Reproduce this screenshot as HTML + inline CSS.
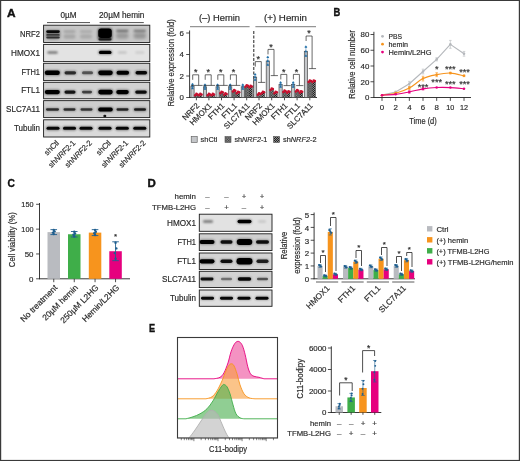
<!DOCTYPE html>
<html lang="en"><head><meta charset="utf-8"><title>Figure</title>
<style>html,body{margin:0;padding:0;background:#fff}body{width:520px;height:461px;overflow:hidden}svg{display:block}</style>
</head><body>
<svg width="520" height="461" viewBox="0 0 520 461" font-family='"Liberation Sans", sans-serif'>
<defs>
<filter id="b1" x="-30%" y="-80%" width="160%" height="260%"><feGaussianBlur stdDeviation="0.9"/></filter>
<filter id="b2" x="-30%" y="-80%" width="160%" height="260%"><feGaussianBlur stdDeviation="1.5"/></filter>
<filter id="b05" x="-30%" y="-80%" width="160%" height="260%"><feGaussianBlur stdDeviation="0.6"/></filter>
<pattern id="h1" width="1.6" height="1.6" patternUnits="userSpaceOnUse"><rect width="1.6" height="1.6" fill="#9a9a9a"/><rect width="0.8" height="0.8" fill="#333"/><rect x="0.8" y="0.8" width="0.8" height="0.8" fill="#333"/></pattern>
<pattern id="h2" width="2" height="2" patternUnits="userSpaceOnUse"><rect width="2" height="2" fill="#8a8a8a"/><rect width="1" height="1" fill="#222"/><rect x="1" y="1" width="1" height="1" fill="#222"/></pattern>
</defs>
<rect width="520" height="461" fill="#fff"/>
<rect x="0.6" y="0.4" width="518.8" height="460.1" fill="none" stroke="#3a3a3a" stroke-width="1.2"/>
<text x="7.1" y="17" font-size="11.5" text-anchor="start" fill="#111" stroke="#111" stroke-width="0.4" font-weight="bold" textLength="8.6" lengthAdjust="spacingAndGlyphs" >A</text>
<text x="333.4" y="16.2" font-size="11.5" text-anchor="start" fill="#111" stroke="#111" stroke-width="0.4" font-weight="bold" textLength="6.8" lengthAdjust="spacingAndGlyphs" >B</text>
<text x="7.6" y="187" font-size="11.5" text-anchor="start" fill="#111" stroke="#111" stroke-width="0.4" font-weight="bold" textLength="7.4" lengthAdjust="spacingAndGlyphs" >C</text>
<text x="147.4" y="187" font-size="11.5" text-anchor="start" fill="#111" stroke="#111" stroke-width="0.4" font-weight="bold" textLength="8.3" lengthAdjust="spacingAndGlyphs" >D</text>
<text x="149" y="331.9" font-size="11.5" text-anchor="start" fill="#111" stroke="#111" stroke-width="0.4" font-weight="bold" textLength="6.1" lengthAdjust="spacingAndGlyphs" >E</text>
<clipPath id="clipA"><rect x="43.6" y="0" width="106.2" height="200"/></clipPath>
<rect x="43.60" y="25.20" width="106.20" height="17.30" fill="#c6c6c6" stroke="none" stroke-width="0.5" />
<text x="40" y="36.75" font-size="8.2" text-anchor="end" fill="#2a2a2a" stroke="#2a2a2a" stroke-width="0.18" textLength="20" lengthAdjust="spacingAndGlyphs" >NRF2</text>
<rect x="43.60" y="44.40" width="106.20" height="17.20" fill="#e3e3e3" stroke="none" stroke-width="0.5" />
<text x="40" y="55.9" font-size="8.2" text-anchor="end" fill="#2a2a2a" stroke="#2a2a2a" stroke-width="0.18" textLength="29" lengthAdjust="spacingAndGlyphs" >HMOX1</text>
<rect x="43.60" y="63.30" width="106.20" height="17.30" fill="#d0d0d0" stroke="none" stroke-width="0.5" />
<text x="40" y="74.85" font-size="8.2" text-anchor="end" fill="#2a2a2a" stroke="#2a2a2a" stroke-width="0.18" textLength="18.6" lengthAdjust="spacingAndGlyphs" >FTH1</text>
<rect x="43.60" y="82.30" width="106.20" height="16.45" fill="#d2d2d2" stroke="none" stroke-width="0.5" />
<text x="40" y="93.42500000000001" font-size="8.2" text-anchor="end" fill="#2a2a2a" stroke="#2a2a2a" stroke-width="0.18" textLength="18.8" lengthAdjust="spacingAndGlyphs" >FTL1</text>
<rect x="43.60" y="100.65" width="106.20" height="16.95" fill="#cecece" stroke="none" stroke-width="0.5" />
<text x="40" y="112.025" font-size="8.2" text-anchor="end" fill="#2a2a2a" stroke="#2a2a2a" stroke-width="0.18" textLength="34" lengthAdjust="spacingAndGlyphs" >SLC7A11</text>
<rect x="43.60" y="119.80" width="106.20" height="17.20" fill="#dadada" stroke="none" stroke-width="0.5" />
<text x="40" y="131.3" font-size="8.2" text-anchor="end" fill="#2a2a2a" stroke="#2a2a2a" stroke-width="0.18" textLength="26" lengthAdjust="spacingAndGlyphs" >Tubulin</text>
<g clip-path="url(#clipA)">
<rect x="46.25" y="30.30" width="13.50" height="2.60" rx="1.30" fill="#000" opacity="0.9" filter="url(#b05)"/>
<rect x="45.75" y="29.90" width="14.50" height="3.40" rx="1.70" fill="#000" opacity="0.4" filter="url(#b1)"/>
<rect x="46.25" y="34.00" width="13.50" height="1.80" rx="0.90" fill="#000" opacity="0.55" filter="url(#b05)"/>
<rect x="46.25" y="36.50" width="13.50" height="2.00" rx="1.00" fill="#000" opacity="0.65" filter="url(#b05)"/>
<rect x="45.50" y="31.50" width="15.00" height="8.00" rx="4.00" fill="#000" opacity="0.3" filter="url(#b1)"/>
<rect x="63.50" y="30.40" width="12.00" height="2.20" rx="1.10" fill="#000" opacity="0.22" filter="url(#b1)"/>
<rect x="63.50" y="34.25" width="12.00" height="4.50" rx="2.25" fill="#000" opacity="0.15" filter="url(#b1)"/>
<rect x="80.00" y="30.40" width="12.00" height="2.20" rx="1.10" fill="#000" opacity="0.18" filter="url(#b1)"/>
<rect x="80.00" y="34.25" width="12.00" height="4.50" rx="2.25" fill="#000" opacity="0.13" filter="url(#b1)"/>
<rect x="98.25" y="28.45" width="13.50" height="9.50" rx="3.00" fill="#000" opacity="1.0" filter="url(#b05)"/>
<rect x="97.75" y="27.90" width="14.50" height="13.00" rx="3.00" fill="#000" opacity="0.6" filter="url(#b1)"/>
<rect x="98.50" y="38.20" width="13.00" height="2.20" rx="1.10" fill="#000" opacity="0.7" filter="url(#b05)"/>
<rect x="116.05" y="29.70" width="12.50" height="2.20" rx="1.10" fill="#000" opacity="0.45" filter="url(#b1)"/>
<rect x="116.05" y="32.80" width="12.50" height="6.00" rx="3.00" fill="#000" opacity="0.22" filter="url(#b2)"/>
<rect x="133.55" y="29.70" width="12.50" height="2.20" rx="1.10" fill="#000" opacity="0.4" filter="url(#b1)"/>
<rect x="133.55" y="32.80" width="12.50" height="6.00" rx="3.00" fill="#000" opacity="0.24" filter="url(#b2)"/>
<rect x="47.25" y="51.40" width="10.50" height="2.20" rx="1.10" fill="#000" opacity="0.6" filter="url(#b1)"/>
<rect x="98.95" y="50.80" width="12.50" height="3.20" rx="1.60" fill="#000" opacity="1.0" filter="url(#b05)"/>
<rect x="98.20" y="50.20" width="14.00" height="4.40" rx="2.20" fill="#000" opacity="0.45" filter="url(#b1)"/>
<rect x="117.80" y="51.50" width="9.00" height="2.00" rx="1.00" fill="#000" opacity="0.17" filter="url(#b1)"/>
<rect x="135.30" y="51.50" width="9.00" height="2.00" rx="1.00" fill="#000" opacity="0.12" filter="url(#b1)"/>
<rect x="44.80" y="70.60" width="15.00" height="4.40" rx="2.20" fill="#000" opacity="1" filter="url(#b05)"/>
<rect x="44.05" y="70.00" width="16.50" height="5.60" rx="2.80" fill="#000" opacity="0.45" filter="url(#b1)"/>
<rect x="64.55" y="71.20" width="11.50" height="3.20" rx="1.60" fill="#000" opacity="0.7" filter="url(#b05)"/>
<rect x="63.80" y="70.60" width="13.00" height="4.40" rx="2.20" fill="#000" opacity="0.315" filter="url(#b1)"/>
<rect x="82.00" y="71.30" width="11.00" height="3.00" rx="1.50" fill="#000" opacity="0.5" filter="url(#b05)"/>
<rect x="81.25" y="70.70" width="12.50" height="4.20" rx="2.10" fill="#000" opacity="0.225" filter="url(#b1)"/>
<rect x="98.25" y="70.40" width="14.50" height="4.80" rx="2.40" fill="#000" opacity="1" filter="url(#b05)"/>
<rect x="97.50" y="69.80" width="16.00" height="6.00" rx="3.00" fill="#000" opacity="0.45" filter="url(#b1)"/>
<rect x="116.55" y="70.80" width="12.50" height="4.00" rx="2.00" fill="#000" opacity="1" filter="url(#b05)"/>
<rect x="115.80" y="70.20" width="14.00" height="5.20" rx="2.60" fill="#000" opacity="0.45" filter="url(#b1)"/>
<rect x="135.55" y="71.10" width="11.50" height="3.40" rx="1.70" fill="#000" opacity="0.95" filter="url(#b05)"/>
<rect x="134.80" y="70.50" width="13.00" height="4.60" rx="2.30" fill="#000" opacity="0.4275" filter="url(#b1)"/>
<rect x="44.80" y="90.00" width="15.00" height="4.20" rx="2.10" fill="#000" opacity="1" filter="url(#b05)"/>
<rect x="44.05" y="89.40" width="16.50" height="5.40" rx="2.70" fill="#000" opacity="0.45" filter="url(#b1)"/>
<rect x="64.50" y="90.50" width="11.00" height="3.20" rx="1.60" fill="#000" opacity="0.85" filter="url(#b05)"/>
<rect x="63.75" y="89.90" width="12.50" height="4.40" rx="2.20" fill="#000" opacity="0.3825" filter="url(#b1)"/>
<rect x="82.00" y="90.70" width="10.00" height="2.80" rx="1.40" fill="#000" opacity="0.6" filter="url(#b05)"/>
<rect x="81.25" y="90.10" width="11.50" height="4.00" rx="2.00" fill="#000" opacity="0.27" filter="url(#b1)"/>
<rect x="98.25" y="89.70" width="14.50" height="4.80" rx="2.40" fill="#000" opacity="1" filter="url(#b05)"/>
<rect x="97.50" y="89.10" width="16.00" height="6.00" rx="3.00" fill="#000" opacity="0.45" filter="url(#b1)"/>
<rect x="116.25" y="90.00" width="12.50" height="4.20" rx="2.10" fill="#000" opacity="1" filter="url(#b05)"/>
<rect x="115.50" y="89.40" width="14.00" height="5.40" rx="2.70" fill="#000" opacity="0.45" filter="url(#b1)"/>
<rect x="135.25" y="90.50" width="11.50" height="3.20" rx="1.60" fill="#000" opacity="0.9" filter="url(#b05)"/>
<rect x="134.50" y="89.90" width="13.00" height="4.40" rx="2.20" fill="#000" opacity="0.405" filter="url(#b1)"/>
<rect x="46.00" y="108.35" width="13.00" height="2.30" rx="1.15" fill="#000" opacity="0.7" filter="url(#b05)"/>
<rect x="45.25" y="107.75" width="14.50" height="3.50" rx="1.75" fill="#000" opacity="0.315" filter="url(#b1)"/>
<rect x="63.50" y="108.35" width="12.00" height="2.30" rx="1.15" fill="#000" opacity="0.7" filter="url(#b05)"/>
<rect x="62.75" y="107.75" width="13.50" height="3.50" rx="1.75" fill="#000" opacity="0.315" filter="url(#b1)"/>
<rect x="80.50" y="108.35" width="12.00" height="2.30" rx="1.15" fill="#000" opacity="0.65" filter="url(#b05)"/>
<rect x="79.75" y="107.75" width="13.50" height="3.50" rx="1.75" fill="#000" opacity="0.29250000000000004" filter="url(#b1)"/>
<rect x="98.25" y="107.60" width="14.50" height="3.80" rx="1.90" fill="#000" opacity="1" filter="url(#b05)"/>
<rect x="97.50" y="107.00" width="16.00" height="5.00" rx="2.50" fill="#000" opacity="0.45" filter="url(#b1)"/>
<rect x="116.50" y="108.35" width="12.00" height="2.30" rx="1.15" fill="#000" opacity="0.75" filter="url(#b05)"/>
<rect x="115.75" y="107.75" width="13.50" height="3.50" rx="1.75" fill="#000" opacity="0.3375" filter="url(#b1)"/>
<rect x="134.00" y="108.20" width="12.00" height="2.60" rx="1.30" fill="#000" opacity="0.8" filter="url(#b05)"/>
<rect x="133.25" y="107.60" width="13.50" height="3.80" rx="1.90" fill="#000" opacity="0.36000000000000004" filter="url(#b1)"/>
<rect x="103.30" y="114.80" width="3.00" height="2.40" rx="1.20" fill="#000" opacity="0.9" filter="url(#b05)"/>
<rect x="46.50" y="126.80" width="13.00" height="3.00" rx="1.50" fill="#000" opacity="0.95" filter="url(#b05)"/>
<rect x="45.75" y="126.20" width="14.50" height="4.20" rx="2.10" fill="#000" opacity="0.4275" filter="url(#b1)"/>
<rect x="63.00" y="126.80" width="13.00" height="3.00" rx="1.50" fill="#000" opacity="0.95" filter="url(#b05)"/>
<rect x="62.25" y="126.20" width="14.50" height="4.20" rx="2.10" fill="#000" opacity="0.4275" filter="url(#b1)"/>
<rect x="79.50" y="126.80" width="13.00" height="3.00" rx="1.50" fill="#000" opacity="0.95" filter="url(#b05)"/>
<rect x="78.75" y="126.20" width="14.50" height="4.20" rx="2.10" fill="#000" opacity="0.4275" filter="url(#b1)"/>
<rect x="98.50" y="126.80" width="13.00" height="3.00" rx="1.50" fill="#000" opacity="0.95" filter="url(#b05)"/>
<rect x="97.75" y="126.20" width="14.50" height="4.20" rx="2.10" fill="#000" opacity="0.4275" filter="url(#b1)"/>
<rect x="115.80" y="126.80" width="13.00" height="3.00" rx="1.50" fill="#000" opacity="0.95" filter="url(#b05)"/>
<rect x="115.05" y="126.20" width="14.50" height="4.20" rx="2.10" fill="#000" opacity="0.4275" filter="url(#b1)"/>
<rect x="133.30" y="126.80" width="13.00" height="3.00" rx="1.50" fill="#000" opacity="0.95" filter="url(#b05)"/>
<rect x="132.55" y="126.20" width="14.50" height="4.20" rx="2.10" fill="#000" opacity="0.4275" filter="url(#b1)"/>
</g>
<rect x="43.60" y="25.20" width="106.20" height="17.30" fill="none" stroke="#1a1a1a" stroke-width="0.9" />
<rect x="43.60" y="44.40" width="106.20" height="17.20" fill="none" stroke="#1a1a1a" stroke-width="0.9" />
<rect x="43.60" y="63.30" width="106.20" height="17.30" fill="none" stroke="#1a1a1a" stroke-width="0.9" />
<rect x="43.60" y="82.30" width="106.20" height="16.45" fill="none" stroke="#1a1a1a" stroke-width="0.9" />
<rect x="43.60" y="100.65" width="106.20" height="16.95" fill="none" stroke="#1a1a1a" stroke-width="0.9" />
<rect x="43.60" y="119.80" width="106.20" height="17.20" fill="none" stroke="#1a1a1a" stroke-width="0.9" />
<text x="68.5" y="18.3" font-size="8.2" text-anchor="middle" fill="#2a2a2a" stroke="#2a2a2a" stroke-width="0.18" textLength="16" lengthAdjust="spacingAndGlyphs" >0µM</text>
<text x="121.7" y="18.3" font-size="8.2" text-anchor="middle" fill="#2a2a2a" stroke="#2a2a2a" stroke-width="0.18" textLength="45.4" lengthAdjust="spacingAndGlyphs" >20µM hemin</text>
<line x1="47" y1="22.6" x2="90" y2="22.6" stroke="#222" stroke-width="0.8" />
<line x1="99.6" y1="22.6" x2="143.8" y2="22.6" stroke="#222" stroke-width="0.8" />
<text x="59.5" y="143.5" font-size="7.8" text-anchor="end" fill="#2a2a2a" stroke="#2a2a2a" stroke-width="0.18" transform="rotate(-45 59.5 143.5)" textLength="17.24" lengthAdjust="spacingAndGlyphs" >shCtl</text>
<text x="76.0" y="143.5" font-size="7.8" text-anchor="end" fill="#2a2a2a" stroke="#2a2a2a" stroke-width="0.18" transform="rotate(-45 76.0 143.5)" textLength="34.48" lengthAdjust="spacingAndGlyphs" >sh<tspan font-style="italic">NRF2</tspan>-1</text>
<text x="92.5" y="143.5" font-size="7.8" text-anchor="end" fill="#2a2a2a" stroke="#2a2a2a" stroke-width="0.18" transform="rotate(-45 92.5 143.5)" textLength="34.48" lengthAdjust="spacingAndGlyphs" >sh<tspan font-style="italic">NRF2</tspan>-2</text>
<text x="111.5" y="143.5" font-size="7.8" text-anchor="end" fill="#2a2a2a" stroke="#2a2a2a" stroke-width="0.18" transform="rotate(-45 111.5 143.5)" textLength="17.24" lengthAdjust="spacingAndGlyphs" >shCtl</text>
<text x="128.8" y="143.5" font-size="7.8" text-anchor="end" fill="#2a2a2a" stroke="#2a2a2a" stroke-width="0.18" transform="rotate(-45 128.8 143.5)" textLength="34.48" lengthAdjust="spacingAndGlyphs" >sh<tspan font-style="italic">NRF2</tspan>-1</text>
<text x="146.3" y="143.5" font-size="7.8" text-anchor="end" fill="#2a2a2a" stroke="#2a2a2a" stroke-width="0.18" transform="rotate(-45 146.3 143.5)" textLength="34.48" lengthAdjust="spacingAndGlyphs" >sh<tspan font-style="italic">NRF2</tspan>-2</text>
<text x="173.6" y="62.8" font-size="8.6" text-anchor="middle" fill="#2a2a2a" stroke="#2a2a2a" stroke-width="0.18" transform="rotate(-90 173.6 62.8)" textLength="87.5" lengthAdjust="spacingAndGlyphs" >Relative expression (fold)</text>
<line x1="189.6" y1="30.5" x2="189.6" y2="97.9" stroke="#222" stroke-width="0.9" />
<line x1="189.2" y1="97.5" x2="317" y2="97.5" stroke="#222" stroke-width="0.9" />
<line x1="186.2" y1="97.5" x2="189.6" y2="97.5" stroke="#222" stroke-width="0.8" />
<text x="184.0" y="100.3" font-size="7.9" text-anchor="end" fill="#2a2a2a" stroke="#2a2a2a" stroke-width="0.18" textLength="4.39" lengthAdjust="spacingAndGlyphs" >0</text>
<line x1="186.2" y1="76.0" x2="189.6" y2="76.0" stroke="#222" stroke-width="0.8" />
<text x="184.0" y="78.8" font-size="7.9" text-anchor="end" fill="#2a2a2a" stroke="#2a2a2a" stroke-width="0.18" textLength="4.39" lengthAdjust="spacingAndGlyphs" >2</text>
<line x1="186.2" y1="54.5" x2="189.6" y2="54.5" stroke="#222" stroke-width="0.8" />
<text x="184.0" y="57.3" font-size="7.9" text-anchor="end" fill="#2a2a2a" stroke="#2a2a2a" stroke-width="0.18" textLength="4.39" lengthAdjust="spacingAndGlyphs" >4</text>
<line x1="186.2" y1="33.0" x2="189.6" y2="33.0" stroke="#222" stroke-width="0.8" />
<text x="184.0" y="35.8" font-size="7.9" text-anchor="end" fill="#2a2a2a" stroke="#2a2a2a" stroke-width="0.18" textLength="4.39" lengthAdjust="spacingAndGlyphs" >6</text>
<line x1="253.8" y1="31" x2="253.8" y2="97.5" stroke="#222" stroke-width="1.0" stroke-dasharray="3 1.5"/>
<text x="219.5" y="21.4" font-size="9" text-anchor="middle" fill="#2a2a2a" stroke="#2a2a2a" stroke-width="0.18" textLength="41" lengthAdjust="spacingAndGlyphs" >(–) Hemin</text>
<text x="285.5" y="21.4" font-size="9" text-anchor="middle" fill="#2a2a2a" stroke="#2a2a2a" stroke-width="0.18" textLength="43" lengthAdjust="spacingAndGlyphs" >(+) Hemin</text>
<line x1="190" y1="26.7" x2="249.6" y2="26.7" stroke="#444" stroke-width="0.7" />
<line x1="255.4" y1="26.7" x2="316" y2="26.7" stroke="#444" stroke-width="0.7" />
<line x1="196.4" y1="97.5" x2="196.4" y2="100.3" stroke="#222" stroke-width="0.8" />
<text x="199.9" y="106.3" font-size="8" text-anchor="end" fill="#2a2a2a" stroke="#2a2a2a" stroke-width="0.18" transform="rotate(-45 199.9 106.3)" textLength="20.26" lengthAdjust="spacingAndGlyphs" >NRF2</text>
<rect x="190.90" y="86.21" width="3.20" height="11.29" fill="#c4c6c9" stroke="#4a4a4a" stroke-width="0.7" />
<rect x="194.80" y="94.81" width="3.20" height="2.69" fill="url(#h1)" stroke="#4a4a4a" stroke-width="0.7" />
<rect x="198.70" y="94.81" width="3.20" height="2.69" fill="url(#h2)" stroke="#4a4a4a" stroke-width="0.7" />
<line x1="192.5" y1="84.132375" x2="192.5" y2="88.292625" stroke="#2a6ea6" stroke-width="0.5" />
<line x1="191.3" y1="84.132375" x2="193.7" y2="84.132375" stroke="#2a6ea6" stroke-width="0.5" />
<line x1="191.3" y1="88.292625" x2="193.7" y2="88.292625" stroke="#2a6ea6" stroke-width="0.5" />
<path d="M191.10,89.29 L193.90,89.29 L192.50,86.89 Z" fill="#1f6fa8"/>
<path d="M191.10,87.21 L193.90,87.21 L192.50,84.81 Z" fill="#1f6fa8"/>
<path d="M191.10,85.13 L193.90,85.13 L192.50,82.73 Z" fill="#1f6fa8"/>
<circle cx="195.20" cy="95.33" r="1.25" fill="#c8102e"/>
<circle cx="197.60" cy="94.47" r="1.25" fill="#c8102e"/>
<circle cx="196.40" cy="93.82" r="1.25" fill="#c8102e"/>
<circle cx="199.10" cy="95.33" r="1.25" fill="#c8102e"/>
<circle cx="201.50" cy="94.47" r="1.25" fill="#c8102e"/>
<circle cx="200.30" cy="93.82" r="1.25" fill="#c8102e"/>
<polyline points="192.70,79.80 192.70,74.80 198.70,74.80 198.70,85.40" fill="none" stroke="#2a2a2a" stroke-width="0.7"/>
<line x1="190.95000000000002" y1="85.4" x2="202.65" y2="85.4" stroke="#2a2a2a" stroke-width="0.7" />
<text x="195.7" y="75.0" font-size="9" text-anchor="middle" fill="#2a2a2a" stroke="#2a2a2a" stroke-width="0.18" >*</text>
<line x1="208.9" y1="97.5" x2="208.9" y2="100.3" stroke="#222" stroke-width="0.8" />
<text x="212.4" y="106.3" font-size="8" text-anchor="end" fill="#2a2a2a" stroke="#2a2a2a" stroke-width="0.18" transform="rotate(-45 212.4 106.3)" textLength="27.6" lengthAdjust="spacingAndGlyphs" >HMOX1</text>
<rect x="203.40" y="86.75" width="3.20" height="10.75" fill="#c4c6c9" stroke="#4a4a4a" stroke-width="0.7" />
<rect x="207.30" y="94.81" width="3.20" height="2.69" fill="url(#h1)" stroke="#4a4a4a" stroke-width="0.7" />
<rect x="211.20" y="94.81" width="3.20" height="2.69" fill="url(#h2)" stroke="#4a4a4a" stroke-width="0.7" />
<line x1="205.0" y1="84.7075" x2="205.0" y2="88.7925" stroke="#2a6ea6" stroke-width="0.5" />
<line x1="203.8" y1="84.7075" x2="206.2" y2="84.7075" stroke="#2a6ea6" stroke-width="0.5" />
<line x1="203.8" y1="88.7925" x2="206.2" y2="88.7925" stroke="#2a6ea6" stroke-width="0.5" />
<path d="M203.60,89.79 L206.40,89.79 L205.00,87.39 Z" fill="#1f6fa8"/>
<path d="M203.60,87.75 L206.40,87.75 L205.00,85.35 Z" fill="#1f6fa8"/>
<path d="M203.60,85.71 L206.40,85.71 L205.00,83.31 Z" fill="#1f6fa8"/>
<circle cx="207.70" cy="95.33" r="1.25" fill="#c8102e"/>
<circle cx="210.10" cy="94.47" r="1.25" fill="#c8102e"/>
<circle cx="208.90" cy="93.82" r="1.25" fill="#c8102e"/>
<circle cx="211.60" cy="95.33" r="1.25" fill="#c8102e"/>
<circle cx="214.00" cy="94.47" r="1.25" fill="#c8102e"/>
<circle cx="212.80" cy="93.82" r="1.25" fill="#c8102e"/>
<polyline points="205.20,79.80 205.20,74.80 211.20,74.80 211.20,85.40" fill="none" stroke="#2a2a2a" stroke-width="0.7"/>
<line x1="203.45000000000002" y1="85.4" x2="215.15" y2="85.4" stroke="#2a2a2a" stroke-width="0.7" />
<text x="208.2" y="75.0" font-size="9" text-anchor="middle" fill="#2a2a2a" stroke="#2a2a2a" stroke-width="0.18" >*</text>
<line x1="221.5" y1="97.5" x2="221.5" y2="100.3" stroke="#222" stroke-width="0.8" />
<text x="225.0" y="106.3" font-size="8" text-anchor="end" fill="#2a2a2a" stroke="#2a2a2a" stroke-width="0.18" transform="rotate(-45 225.0 106.3)" textLength="19.4" lengthAdjust="spacingAndGlyphs" >FTH1</text>
<rect x="216.00" y="86.75" width="3.20" height="10.75" fill="#c4c6c9" stroke="#4a4a4a" stroke-width="0.7" />
<rect x="219.90" y="92.66" width="3.20" height="4.84" fill="url(#h1)" stroke="#4a4a4a" stroke-width="0.7" />
<rect x="223.80" y="94.28" width="3.20" height="3.23" fill="url(#h2)" stroke="#4a4a4a" stroke-width="0.7" />
<line x1="217.6" y1="84.7075" x2="217.6" y2="88.7925" stroke="#2a6ea6" stroke-width="0.5" />
<line x1="216.4" y1="84.7075" x2="218.79999999999998" y2="84.7075" stroke="#2a6ea6" stroke-width="0.5" />
<line x1="216.4" y1="88.7925" x2="218.79999999999998" y2="88.7925" stroke="#2a6ea6" stroke-width="0.5" />
<path d="M216.20,89.79 L219.00,89.79 L217.60,87.39 Z" fill="#1f6fa8"/>
<path d="M216.20,87.75 L219.00,87.75 L217.60,85.35 Z" fill="#1f6fa8"/>
<path d="M216.20,85.71 L219.00,85.71 L217.60,83.31 Z" fill="#1f6fa8"/>
<circle cx="220.30" cy="93.18" r="1.25" fill="#c8102e"/>
<circle cx="222.70" cy="92.32" r="1.25" fill="#c8102e"/>
<circle cx="221.50" cy="91.67" r="1.25" fill="#c8102e"/>
<circle cx="224.20" cy="94.79" r="1.25" fill="#c8102e"/>
<circle cx="226.60" cy="93.93" r="1.25" fill="#c8102e"/>
<circle cx="225.40" cy="93.28" r="1.25" fill="#c8102e"/>
<polyline points="217.80,79.80 217.80,74.80 223.80,74.80 223.80,85.40" fill="none" stroke="#2a2a2a" stroke-width="0.7"/>
<line x1="216.05" y1="85.4" x2="227.75" y2="85.4" stroke="#2a2a2a" stroke-width="0.7" />
<text x="220.8" y="75.0" font-size="9" text-anchor="middle" fill="#2a2a2a" stroke="#2a2a2a" stroke-width="0.18" >*</text>
<line x1="234.1" y1="97.5" x2="234.1" y2="100.3" stroke="#222" stroke-width="0.8" />
<text x="237.6" y="106.3" font-size="8" text-anchor="end" fill="#2a2a2a" stroke="#2a2a2a" stroke-width="0.18" transform="rotate(-45 237.6 106.3)" textLength="18.11" lengthAdjust="spacingAndGlyphs" >FTL1</text>
<rect x="228.60" y="86.75" width="3.20" height="10.75" fill="#c4c6c9" stroke="#4a4a4a" stroke-width="0.7" />
<rect x="232.50" y="91.05" width="3.20" height="6.45" fill="url(#h1)" stroke="#4a4a4a" stroke-width="0.7" />
<rect x="236.40" y="92.66" width="3.20" height="4.84" fill="url(#h2)" stroke="#4a4a4a" stroke-width="0.7" />
<line x1="230.2" y1="84.7075" x2="230.2" y2="88.7925" stroke="#2a6ea6" stroke-width="0.5" />
<line x1="229.0" y1="84.7075" x2="231.39999999999998" y2="84.7075" stroke="#2a6ea6" stroke-width="0.5" />
<line x1="229.0" y1="88.7925" x2="231.39999999999998" y2="88.7925" stroke="#2a6ea6" stroke-width="0.5" />
<path d="M228.80,89.79 L231.60,89.79 L230.20,87.39 Z" fill="#1f6fa8"/>
<path d="M228.80,87.75 L231.60,87.75 L230.20,85.35 Z" fill="#1f6fa8"/>
<path d="M228.80,85.71 L231.60,85.71 L230.20,83.31 Z" fill="#1f6fa8"/>
<circle cx="232.90" cy="91.56" r="1.25" fill="#c8102e"/>
<circle cx="235.30" cy="90.70" r="1.25" fill="#c8102e"/>
<circle cx="234.10" cy="90.06" r="1.25" fill="#c8102e"/>
<circle cx="236.80" cy="93.18" r="1.25" fill="#c8102e"/>
<circle cx="239.20" cy="92.32" r="1.25" fill="#c8102e"/>
<circle cx="238.00" cy="91.67" r="1.25" fill="#c8102e"/>
<polyline points="230.40,79.80 230.40,74.80 236.40,74.80 236.40,85.40" fill="none" stroke="#2a2a2a" stroke-width="0.7"/>
<line x1="228.65" y1="85.4" x2="240.35" y2="85.4" stroke="#2a2a2a" stroke-width="0.7" />
<text x="233.4" y="75.0" font-size="9" text-anchor="middle" fill="#2a2a2a" stroke="#2a2a2a" stroke-width="0.18" >*</text>
<line x1="246.7" y1="97.5" x2="246.7" y2="100.3" stroke="#222" stroke-width="0.8" />
<text x="250.2" y="106.3" font-size="8" text-anchor="end" fill="#2a2a2a" stroke="#2a2a2a" stroke-width="0.18" transform="rotate(-45 250.2 106.3)" textLength="32.64" lengthAdjust="spacingAndGlyphs" >SLC7A11</text>
<rect x="241.20" y="86.75" width="3.20" height="10.75" fill="#c4c6c9" stroke="#4a4a4a" stroke-width="0.7" />
<rect x="245.10" y="86.21" width="3.20" height="11.29" fill="url(#h1)" stroke="#4a4a4a" stroke-width="0.7" />
<rect x="249.00" y="86.75" width="3.20" height="10.75" fill="url(#h2)" stroke="#4a4a4a" stroke-width="0.7" />
<line x1="242.79999999999998" y1="84.7075" x2="242.79999999999998" y2="88.7925" stroke="#2a6ea6" stroke-width="0.5" />
<line x1="241.6" y1="84.7075" x2="243.99999999999997" y2="84.7075" stroke="#2a6ea6" stroke-width="0.5" />
<line x1="241.6" y1="88.7925" x2="243.99999999999997" y2="88.7925" stroke="#2a6ea6" stroke-width="0.5" />
<path d="M241.40,89.79 L244.20,89.79 L242.80,87.39 Z" fill="#1f6fa8"/>
<path d="M241.40,87.75 L244.20,87.75 L242.80,85.35 Z" fill="#1f6fa8"/>
<path d="M241.40,85.71 L244.20,85.71 L242.80,83.31 Z" fill="#1f6fa8"/>
<circle cx="245.50" cy="86.73" r="1.25" fill="#c8102e"/>
<circle cx="247.90" cy="85.87" r="1.25" fill="#c8102e"/>
<circle cx="246.70" cy="85.22" r="1.25" fill="#c8102e"/>
<circle cx="249.40" cy="87.27" r="1.25" fill="#c8102e"/>
<circle cx="251.80" cy="86.41" r="1.25" fill="#c8102e"/>
<circle cx="250.60" cy="85.76" r="1.25" fill="#c8102e"/>
<line x1="259.0" y1="97.5" x2="259.0" y2="100.3" stroke="#222" stroke-width="0.8" />
<text x="262.5" y="106.3" font-size="8" text-anchor="end" fill="#2a2a2a" stroke="#2a2a2a" stroke-width="0.18" transform="rotate(-45 262.5 106.3)" textLength="20.26" lengthAdjust="spacingAndGlyphs" >NRF2</text>
<rect x="253.50" y="77.08" width="3.20" height="20.43" fill="#c4c6c9" stroke="#4a4a4a" stroke-width="0.7" />
<rect x="257.40" y="94.28" width="3.20" height="3.23" fill="url(#h1)" stroke="#4a4a4a" stroke-width="0.7" />
<rect x="261.30" y="92.66" width="3.20" height="4.84" fill="url(#h2)" stroke="#4a4a4a" stroke-width="0.7" />
<line x1="255.1" y1="74.35525" x2="255.1" y2="79.79475" stroke="#2a6ea6" stroke-width="0.5" />
<line x1="253.9" y1="74.35525" x2="256.3" y2="74.35525" stroke="#2a6ea6" stroke-width="0.5" />
<line x1="253.9" y1="79.79475" x2="256.3" y2="79.79475" stroke="#2a6ea6" stroke-width="0.5" />
<path d="M253.70,80.79 L256.50,80.79 L255.10,78.39 Z" fill="#1f6fa8"/>
<path d="M253.70,78.08 L256.50,78.08 L255.10,75.67 Z" fill="#1f6fa8"/>
<path d="M253.70,75.36 L256.50,75.36 L255.10,72.96 Z" fill="#1f6fa8"/>
<circle cx="257.80" cy="94.79" r="1.25" fill="#c8102e"/>
<circle cx="260.20" cy="93.93" r="1.25" fill="#c8102e"/>
<circle cx="259.00" cy="93.28" r="1.25" fill="#c8102e"/>
<circle cx="261.70" cy="93.18" r="1.25" fill="#c8102e"/>
<circle cx="264.10" cy="92.32" r="1.25" fill="#c8102e"/>
<circle cx="262.90" cy="91.67" r="1.25" fill="#c8102e"/>
<polyline points="255.30,66.60 255.30,61.60 261.30,61.60 261.30,82.40" fill="none" stroke="#2a2a2a" stroke-width="0.7"/>
<line x1="258.05" y1="82.4" x2="265.25" y2="82.4" stroke="#2a2a2a" stroke-width="0.7" />
<text x="258.3" y="61.8" font-size="9" text-anchor="middle" fill="#2a2a2a" stroke="#2a2a2a" stroke-width="0.18" >*</text>
<line x1="271.7" y1="97.5" x2="271.7" y2="100.3" stroke="#222" stroke-width="0.8" />
<text x="275.2" y="106.3" font-size="8" text-anchor="end" fill="#2a2a2a" stroke="#2a2a2a" stroke-width="0.18" transform="rotate(-45 275.2 106.3)" textLength="27.6" lengthAdjust="spacingAndGlyphs" >HMOX1</text>
<rect x="266.20" y="60.95" width="3.20" height="36.55" fill="#c4c6c9" stroke="#4a4a4a" stroke-width="0.7" />
<rect x="270.10" y="89.44" width="3.20" height="8.06" fill="url(#h1)" stroke="#4a4a4a" stroke-width="0.7" />
<rect x="274.00" y="92.66" width="3.20" height="4.84" fill="url(#h2)" stroke="#4a4a4a" stroke-width="0.7" />
<line x1="267.79999999999995" y1="57.1015" x2="267.79999999999995" y2="64.7985" stroke="#2a6ea6" stroke-width="0.5" />
<line x1="266.59999999999997" y1="57.1015" x2="268.99999999999994" y2="57.1015" stroke="#2a6ea6" stroke-width="0.5" />
<line x1="266.59999999999997" y1="64.7985" x2="268.99999999999994" y2="64.7985" stroke="#2a6ea6" stroke-width="0.5" />
<path d="M266.40,65.80 L269.20,65.80 L267.80,63.40 Z" fill="#1f6fa8"/>
<path d="M266.40,61.95 L269.20,61.95 L267.80,59.55 Z" fill="#1f6fa8"/>
<path d="M266.40,58.10 L269.20,58.10 L267.80,55.70 Z" fill="#1f6fa8"/>
<circle cx="270.50" cy="89.95" r="1.25" fill="#c8102e"/>
<circle cx="272.90" cy="89.09" r="1.25" fill="#c8102e"/>
<circle cx="271.70" cy="88.45" r="1.25" fill="#c8102e"/>
<circle cx="274.40" cy="93.18" r="1.25" fill="#c8102e"/>
<circle cx="276.80" cy="92.32" r="1.25" fill="#c8102e"/>
<circle cx="275.60" cy="91.67" r="1.25" fill="#c8102e"/>
<polyline points="268.00,54.40 268.00,49.40 274.00,49.40 274.00,75.60" fill="none" stroke="#2a2a2a" stroke-width="0.7"/>
<line x1="270.74999999999994" y1="75.6" x2="277.94999999999993" y2="75.6" stroke="#2a2a2a" stroke-width="0.7" />
<text x="271.0" y="49.6" font-size="9" text-anchor="middle" fill="#2a2a2a" stroke="#2a2a2a" stroke-width="0.18" >*</text>
<line x1="284.5" y1="97.5" x2="284.5" y2="100.3" stroke="#222" stroke-width="0.8" />
<text x="288.0" y="106.3" font-size="8" text-anchor="end" fill="#2a2a2a" stroke="#2a2a2a" stroke-width="0.18" transform="rotate(-45 288.0 106.3)" textLength="19.4" lengthAdjust="spacingAndGlyphs" >FTH1</text>
<rect x="279.00" y="84.60" width="3.20" height="12.90" fill="#c4c6c9" stroke="#4a4a4a" stroke-width="0.7" />
<rect x="282.90" y="91.59" width="3.20" height="5.91" fill="url(#h1)" stroke="#4a4a4a" stroke-width="0.7" />
<rect x="286.80" y="92.12" width="3.20" height="5.38" fill="url(#h2)" stroke="#4a4a4a" stroke-width="0.7" />
<line x1="280.59999999999997" y1="82.407" x2="280.59999999999997" y2="86.793" stroke="#2a6ea6" stroke-width="0.5" />
<line x1="279.4" y1="82.407" x2="281.79999999999995" y2="82.407" stroke="#2a6ea6" stroke-width="0.5" />
<line x1="279.4" y1="86.793" x2="281.79999999999995" y2="86.793" stroke="#2a6ea6" stroke-width="0.5" />
<path d="M279.20,87.79 L282.00,87.79 L280.60,85.39 Z" fill="#1f6fa8"/>
<path d="M279.20,85.60 L282.00,85.60 L280.60,83.20 Z" fill="#1f6fa8"/>
<path d="M279.20,83.41 L282.00,83.41 L280.60,81.01 Z" fill="#1f6fa8"/>
<circle cx="283.30" cy="92.10" r="1.25" fill="#c8102e"/>
<circle cx="285.70" cy="91.24" r="1.25" fill="#c8102e"/>
<circle cx="284.50" cy="90.60" r="1.25" fill="#c8102e"/>
<circle cx="287.20" cy="92.64" r="1.25" fill="#c8102e"/>
<circle cx="289.60" cy="91.78" r="1.25" fill="#c8102e"/>
<circle cx="288.40" cy="91.13" r="1.25" fill="#c8102e"/>
<polyline points="280.80,79.40 280.80,74.40 286.80,74.40 286.80,85.60" fill="none" stroke="#2a2a2a" stroke-width="0.7"/>
<line x1="283.54999999999995" y1="85.6" x2="290.74999999999994" y2="85.6" stroke="#2a2a2a" stroke-width="0.7" />
<text x="283.8" y="74.6" font-size="9" text-anchor="middle" fill="#2a2a2a" stroke="#2a2a2a" stroke-width="0.18" >*</text>
<line x1="297.1" y1="97.5" x2="297.1" y2="100.3" stroke="#222" stroke-width="0.8" />
<text x="300.6" y="106.3" font-size="8" text-anchor="end" fill="#2a2a2a" stroke="#2a2a2a" stroke-width="0.18" transform="rotate(-45 300.6 106.3)" textLength="18.11" lengthAdjust="spacingAndGlyphs" >FTL1</text>
<rect x="291.60" y="84.60" width="3.20" height="12.90" fill="#c4c6c9" stroke="#4a4a4a" stroke-width="0.7" />
<rect x="295.50" y="91.05" width="3.20" height="6.45" fill="url(#h1)" stroke="#4a4a4a" stroke-width="0.7" />
<rect x="299.40" y="92.12" width="3.20" height="5.38" fill="url(#h2)" stroke="#4a4a4a" stroke-width="0.7" />
<line x1="293.2" y1="82.407" x2="293.2" y2="86.793" stroke="#2a6ea6" stroke-width="0.5" />
<line x1="292.0" y1="82.407" x2="294.4" y2="82.407" stroke="#2a6ea6" stroke-width="0.5" />
<line x1="292.0" y1="86.793" x2="294.4" y2="86.793" stroke="#2a6ea6" stroke-width="0.5" />
<path d="M291.80,87.79 L294.60,87.79 L293.20,85.39 Z" fill="#1f6fa8"/>
<path d="M291.80,85.60 L294.60,85.60 L293.20,83.20 Z" fill="#1f6fa8"/>
<path d="M291.80,83.41 L294.60,83.41 L293.20,81.01 Z" fill="#1f6fa8"/>
<circle cx="295.90" cy="91.56" r="1.25" fill="#c8102e"/>
<circle cx="298.30" cy="90.70" r="1.25" fill="#c8102e"/>
<circle cx="297.10" cy="90.06" r="1.25" fill="#c8102e"/>
<circle cx="299.80" cy="92.64" r="1.25" fill="#c8102e"/>
<circle cx="302.20" cy="91.78" r="1.25" fill="#c8102e"/>
<circle cx="301.00" cy="91.13" r="1.25" fill="#c8102e"/>
<polyline points="293.40,79.40 293.40,74.40 299.40,74.40 299.40,85.60" fill="none" stroke="#2a2a2a" stroke-width="0.7"/>
<line x1="296.15" y1="85.6" x2="303.34999999999997" y2="85.6" stroke="#2a2a2a" stroke-width="0.7" />
<text x="296.4" y="74.6" font-size="9" text-anchor="middle" fill="#2a2a2a" stroke="#2a2a2a" stroke-width="0.18" >*</text>
<line x1="309.8" y1="97.5" x2="309.8" y2="100.3" stroke="#222" stroke-width="0.8" />
<text x="313.3" y="106.3" font-size="8" text-anchor="end" fill="#2a2a2a" stroke="#2a2a2a" stroke-width="0.18" transform="rotate(-45 313.3 106.3)" textLength="32.64" lengthAdjust="spacingAndGlyphs" >SLC7A11</text>
<rect x="304.30" y="51.27" width="3.20" height="46.23" fill="#c4c6c9" stroke="#4a4a4a" stroke-width="0.7" />
<rect x="308.20" y="81.38" width="3.20" height="16.12" fill="url(#h1)" stroke="#4a4a4a" stroke-width="0.7" />
<rect x="312.10" y="81.38" width="3.20" height="16.12" fill="url(#h2)" stroke="#4a4a4a" stroke-width="0.7" />
<line x1="305.9" y1="46.749249999999996" x2="305.9" y2="55.80075" stroke="#2a6ea6" stroke-width="0.5" />
<line x1="304.7" y1="46.749249999999996" x2="307.09999999999997" y2="46.749249999999996" stroke="#2a6ea6" stroke-width="0.5" />
<line x1="304.7" y1="55.80075" x2="307.09999999999997" y2="55.80075" stroke="#2a6ea6" stroke-width="0.5" />
<path d="M304.50,56.80 L307.30,56.80 L305.90,54.40 Z" fill="#1f6fa8"/>
<path d="M304.50,52.27 L307.30,52.27 L305.90,49.88 Z" fill="#1f6fa8"/>
<path d="M304.50,47.75 L307.30,47.75 L305.90,45.35 Z" fill="#1f6fa8"/>
<circle cx="308.60" cy="81.89" r="1.25" fill="#c8102e"/>
<circle cx="311.00" cy="81.03" r="1.25" fill="#c8102e"/>
<circle cx="309.80" cy="80.38" r="1.25" fill="#c8102e"/>
<circle cx="312.50" cy="81.89" r="1.25" fill="#c8102e"/>
<circle cx="314.90" cy="81.03" r="1.25" fill="#c8102e"/>
<circle cx="313.70" cy="80.38" r="1.25" fill="#c8102e"/>
<polyline points="306.10,41.00 306.10,36.00 312.10,36.00 312.10,68.60" fill="none" stroke="#2a2a2a" stroke-width="0.7"/>
<line x1="308.84999999999997" y1="68.6" x2="316.04999999999995" y2="68.6" stroke="#2a2a2a" stroke-width="0.7" />
<text x="309.1" y="36.2" font-size="9" text-anchor="middle" fill="#2a2a2a" stroke="#2a2a2a" stroke-width="0.18" >*</text>
<rect x="191.20" y="136.50" width="6.00" height="6.00" fill="#c4c6c9" stroke="#555" stroke-width="0.6" />
<text x="200.6" y="142.3" font-size="8" text-anchor="start" fill="#2a2a2a" stroke="#2a2a2a" stroke-width="0.18" textLength="16.8" lengthAdjust="spacingAndGlyphs" >shCtl</text>
<rect x="225.00" y="136.50" width="6.00" height="6.00" fill="url(#h1)" stroke="#555" stroke-width="0.6" />
<text x="234.4" y="142.3" font-size="8" text-anchor="start" fill="#2a2a2a" stroke="#2a2a2a" stroke-width="0.18" textLength="33" lengthAdjust="spacingAndGlyphs" >sh<tspan font-style="italic">NRF2</tspan>-1</text>
<rect x="273.60" y="136.50" width="6.00" height="6.00" fill="url(#h2)" stroke="#555" stroke-width="0.6" />
<text x="283.0" y="142.3" font-size="8" text-anchor="start" fill="#2a2a2a" stroke="#2a2a2a" stroke-width="0.18" textLength="33.6" lengthAdjust="spacingAndGlyphs" >sh<tspan font-style="italic">NRF2</tspan>-2</text>
<text x="354.6" y="64.5" font-size="8.6" text-anchor="middle" fill="#2a2a2a" stroke="#2a2a2a" stroke-width="0.18" transform="rotate(-90 354.6 64.5)" textLength="68.5" lengthAdjust="spacingAndGlyphs" >Relative cell number</text>
<line x1="373.9" y1="31.8" x2="373.9" y2="97.9" stroke="#222" stroke-width="0.9" />
<line x1="373.5" y1="97.5" x2="471" y2="97.5" stroke="#222" stroke-width="0.9" />
<line x1="370.5" y1="97.5" x2="373.9" y2="97.5" stroke="#222" stroke-width="0.8" />
<text x="369.29999999999995" y="100.3" font-size="7.9" text-anchor="end" fill="#2a2a2a" stroke="#2a2a2a" stroke-width="0.18" textLength="4.39" lengthAdjust="spacingAndGlyphs" >0</text>
<line x1="370.5" y1="81.75" x2="373.9" y2="81.75" stroke="#222" stroke-width="0.8" />
<text x="369.29999999999995" y="84.55" font-size="7.9" text-anchor="end" fill="#2a2a2a" stroke="#2a2a2a" stroke-width="0.18" textLength="8.79" lengthAdjust="spacingAndGlyphs" >20</text>
<line x1="370.5" y1="66.0" x2="373.9" y2="66.0" stroke="#222" stroke-width="0.8" />
<text x="369.29999999999995" y="68.8" font-size="7.9" text-anchor="end" fill="#2a2a2a" stroke="#2a2a2a" stroke-width="0.18" textLength="8.79" lengthAdjust="spacingAndGlyphs" >40</text>
<line x1="370.5" y1="50.25" x2="373.9" y2="50.25" stroke="#222" stroke-width="0.8" />
<text x="369.29999999999995" y="53.05" font-size="7.9" text-anchor="end" fill="#2a2a2a" stroke="#2a2a2a" stroke-width="0.18" textLength="8.79" lengthAdjust="spacingAndGlyphs" >60</text>
<line x1="370.5" y1="34.5" x2="373.9" y2="34.5" stroke="#222" stroke-width="0.8" />
<text x="369.29999999999995" y="37.3" font-size="7.9" text-anchor="end" fill="#2a2a2a" stroke="#2a2a2a" stroke-width="0.18" textLength="8.79" lengthAdjust="spacingAndGlyphs" >80</text>
<line x1="382.0" y1="97.5" x2="382.0" y2="100.9" stroke="#222" stroke-width="0.8" />
<text x="382.0" y="110.4" font-size="7.9" text-anchor="middle" fill="#2a2a2a" stroke="#2a2a2a" stroke-width="0.18" textLength="4.39" lengthAdjust="spacingAndGlyphs" >0</text>
<line x1="395.67" y1="97.5" x2="395.67" y2="100.9" stroke="#222" stroke-width="0.8" />
<text x="395.67" y="110.4" font-size="7.9" text-anchor="middle" fill="#2a2a2a" stroke="#2a2a2a" stroke-width="0.18" textLength="4.39" lengthAdjust="spacingAndGlyphs" >2</text>
<line x1="409.34" y1="97.5" x2="409.34" y2="100.9" stroke="#222" stroke-width="0.8" />
<text x="409.34" y="110.4" font-size="7.9" text-anchor="middle" fill="#2a2a2a" stroke="#2a2a2a" stroke-width="0.18" textLength="4.39" lengthAdjust="spacingAndGlyphs" >4</text>
<line x1="423.01" y1="97.5" x2="423.01" y2="100.9" stroke="#222" stroke-width="0.8" />
<text x="423.01" y="110.4" font-size="7.9" text-anchor="middle" fill="#2a2a2a" stroke="#2a2a2a" stroke-width="0.18" textLength="4.39" lengthAdjust="spacingAndGlyphs" >6</text>
<line x1="436.68" y1="97.5" x2="436.68" y2="100.9" stroke="#222" stroke-width="0.8" />
<text x="436.68" y="110.4" font-size="7.9" text-anchor="middle" fill="#2a2a2a" stroke="#2a2a2a" stroke-width="0.18" textLength="4.39" lengthAdjust="spacingAndGlyphs" >8</text>
<line x1="450.35" y1="97.5" x2="450.35" y2="100.9" stroke="#222" stroke-width="0.8" />
<text x="450.35" y="110.4" font-size="7.9" text-anchor="middle" fill="#2a2a2a" stroke="#2a2a2a" stroke-width="0.18" textLength="8.08" lengthAdjust="spacingAndGlyphs" >10</text>
<line x1="464.02" y1="97.5" x2="464.02" y2="100.9" stroke="#222" stroke-width="0.8" />
<text x="464.02" y="110.4" font-size="7.9" text-anchor="middle" fill="#2a2a2a" stroke="#2a2a2a" stroke-width="0.18" textLength="8.08" lengthAdjust="spacingAndGlyphs" >12</text>
<text x="423" y="123.8" font-size="8.8" text-anchor="middle" fill="#2a2a2a" stroke="#2a2a2a" stroke-width="0.18" textLength="27.5" lengthAdjust="spacingAndGlyphs" >Time (d)</text>
<path d="M382.00,95.14 L395.67,91.99 L409.34,83.72 L423.01,71.51 L436.68,59.31 L450.35,44.34 L464.02,53.79" fill="none" stroke="#b5b8bc" stroke-width="1.1" stroke-linejoin="round"/>
<circle cx="382.00" cy="95.14" r="1.25" fill="#b5b8bc"/>
<line x1="395.67" y1="91.2" x2="395.67" y2="92.77499999999999" stroke="#b5b8bc" stroke-width="0.6" />
<line x1="394.37" y1="91.2" x2="396.97" y2="91.2" stroke="#b5b8bc" stroke-width="0.6" />
<line x1="394.37" y1="92.77499999999999" x2="396.97" y2="92.77499999999999" stroke="#b5b8bc" stroke-width="0.6" />
<circle cx="395.67" cy="91.99" r="1.25" fill="#b5b8bc"/>
<line x1="409.34" y1="81.35625" x2="409.34" y2="86.08125" stroke="#b5b8bc" stroke-width="0.6" />
<line x1="408.03999999999996" y1="81.35625" x2="410.64" y2="81.35625" stroke="#b5b8bc" stroke-width="0.6" />
<line x1="408.03999999999996" y1="86.08125" x2="410.64" y2="86.08125" stroke="#b5b8bc" stroke-width="0.6" />
<circle cx="409.34" cy="83.72" r="1.25" fill="#b5b8bc"/>
<line x1="423.01" y1="69.15" x2="423.01" y2="73.875" stroke="#b5b8bc" stroke-width="0.6" />
<line x1="421.71" y1="69.15" x2="424.31" y2="69.15" stroke="#b5b8bc" stroke-width="0.6" />
<line x1="421.71" y1="73.875" x2="424.31" y2="73.875" stroke="#b5b8bc" stroke-width="0.6" />
<circle cx="423.01" cy="71.51" r="1.25" fill="#b5b8bc"/>
<line x1="436.68" y1="57.731249999999996" x2="436.68" y2="60.88125" stroke="#b5b8bc" stroke-width="0.6" />
<line x1="435.38" y1="57.731249999999996" x2="437.98" y2="57.731249999999996" stroke="#b5b8bc" stroke-width="0.6" />
<line x1="435.38" y1="60.88125" x2="437.98" y2="60.88125" stroke="#b5b8bc" stroke-width="0.6" />
<circle cx="436.68" cy="59.31" r="1.25" fill="#b5b8bc"/>
<line x1="450.35" y1="40.40625" x2="450.35" y2="48.28125" stroke="#b5b8bc" stroke-width="0.6" />
<line x1="449.05" y1="40.40625" x2="451.65000000000003" y2="40.40625" stroke="#b5b8bc" stroke-width="0.6" />
<line x1="449.05" y1="48.28125" x2="451.65000000000003" y2="48.28125" stroke="#b5b8bc" stroke-width="0.6" />
<circle cx="450.35" cy="44.34" r="1.25" fill="#b5b8bc"/>
<line x1="464.02" y1="51.431250000000006" x2="464.02" y2="56.15625" stroke="#b5b8bc" stroke-width="0.6" />
<line x1="462.71999999999997" y1="51.431250000000006" x2="465.32" y2="51.431250000000006" stroke="#b5b8bc" stroke-width="0.6" />
<line x1="462.71999999999997" y1="56.15625" x2="465.32" y2="56.15625" stroke="#b5b8bc" stroke-width="0.6" />
<circle cx="464.02" cy="53.79" r="1.25" fill="#b5b8bc"/>
<path d="M382.00,95.14 C384.28,94.81 391.11,94.35 395.67,93.17 C400.23,91.99 404.78,90.48 409.34,88.05 C413.90,85.62 418.45,80.83 423.01,78.60 C427.57,76.37 432.12,75.58 436.68,74.66 C441.24,73.74 445.79,72.89 450.35,73.09 C454.91,73.28 461.74,75.38 464.02,75.84" fill="none" stroke="#f7941d" stroke-width="1.1" stroke-linejoin="round"/>
<circle cx="382.00" cy="95.14" r="1.25" fill="#f7941d"/>
<line x1="395.67" y1="92.38125000000001" x2="395.67" y2="93.95625" stroke="#f7941d" stroke-width="0.6" />
<line x1="394.37" y1="92.38125000000001" x2="396.97" y2="92.38125000000001" stroke="#f7941d" stroke-width="0.6" />
<line x1="394.37" y1="93.95625" x2="396.97" y2="93.95625" stroke="#f7941d" stroke-width="0.6" />
<circle cx="395.67" cy="93.17" r="1.25" fill="#f7941d"/>
<line x1="409.34" y1="86.475" x2="409.34" y2="89.625" stroke="#f7941d" stroke-width="0.6" />
<line x1="408.03999999999996" y1="86.475" x2="410.64" y2="86.475" stroke="#f7941d" stroke-width="0.6" />
<line x1="408.03999999999996" y1="89.625" x2="410.64" y2="89.625" stroke="#f7941d" stroke-width="0.6" />
<circle cx="409.34" cy="88.05" r="1.25" fill="#f7941d"/>
<line x1="423.01" y1="76.2375" x2="423.01" y2="80.96249999999999" stroke="#f7941d" stroke-width="0.6" />
<line x1="421.71" y1="76.2375" x2="424.31" y2="76.2375" stroke="#f7941d" stroke-width="0.6" />
<line x1="421.71" y1="80.96249999999999" x2="424.31" y2="80.96249999999999" stroke="#f7941d" stroke-width="0.6" />
<circle cx="423.01" cy="78.60" r="1.25" fill="#f7941d"/>
<line x1="436.68" y1="72.69375" x2="436.68" y2="76.63125" stroke="#f7941d" stroke-width="0.6" />
<line x1="435.38" y1="72.69375" x2="437.98" y2="72.69375" stroke="#f7941d" stroke-width="0.6" />
<line x1="435.38" y1="76.63125" x2="437.98" y2="76.63125" stroke="#f7941d" stroke-width="0.6" />
<circle cx="436.68" cy="74.66" r="1.25" fill="#f7941d"/>
<line x1="450.35" y1="72.30000000000001" x2="450.35" y2="73.875" stroke="#f7941d" stroke-width="0.6" />
<line x1="449.05" y1="72.30000000000001" x2="451.65000000000003" y2="72.30000000000001" stroke="#f7941d" stroke-width="0.6" />
<line x1="449.05" y1="73.875" x2="451.65000000000003" y2="73.875" stroke="#f7941d" stroke-width="0.6" />
<circle cx="450.35" cy="73.09" r="1.25" fill="#f7941d"/>
<line x1="464.02" y1="75.05625" x2="464.02" y2="76.63125" stroke="#f7941d" stroke-width="0.6" />
<line x1="462.71999999999997" y1="75.05625" x2="465.32" y2="75.05625" stroke="#f7941d" stroke-width="0.6" />
<line x1="462.71999999999997" y1="76.63125" x2="465.32" y2="76.63125" stroke="#f7941d" stroke-width="0.6" />
<circle cx="464.02" cy="75.84" r="1.25" fill="#f7941d"/>
<path d="M382.00,95.14 C384.28,95.01 391.11,94.88 395.67,94.35 C400.23,93.82 404.78,92.91 409.34,91.99 C413.90,91.07 418.45,89.59 423.01,88.84 C427.57,88.09 432.12,87.71 436.68,87.50 C441.24,87.29 445.79,87.35 450.35,87.58 C454.91,87.80 461.74,88.63 464.02,88.84" fill="none" stroke="#e6007e" stroke-width="1.1" stroke-linejoin="round"/>
<circle cx="382.00" cy="95.14" r="1.25" fill="#e6007e"/>
<circle cx="395.67" cy="94.35" r="1.25" fill="#e6007e"/>
<line x1="409.34" y1="90.80624999999999" x2="409.34" y2="93.16875" stroke="#e6007e" stroke-width="0.6" />
<line x1="408.03999999999996" y1="90.80624999999999" x2="410.64" y2="90.80624999999999" stroke="#e6007e" stroke-width="0.6" />
<line x1="408.03999999999996" y1="93.16875" x2="410.64" y2="93.16875" stroke="#e6007e" stroke-width="0.6" />
<circle cx="409.34" cy="91.99" r="1.25" fill="#e6007e"/>
<line x1="423.01" y1="87.65625" x2="423.01" y2="90.01875000000001" stroke="#e6007e" stroke-width="0.6" />
<line x1="421.71" y1="87.65625" x2="424.31" y2="87.65625" stroke="#e6007e" stroke-width="0.6" />
<line x1="421.71" y1="90.01875000000001" x2="424.31" y2="90.01875000000001" stroke="#e6007e" stroke-width="0.6" />
<circle cx="423.01" cy="88.84" r="1.25" fill="#e6007e"/>
<circle cx="436.68" cy="87.50" r="1.25" fill="#e6007e"/>
<circle cx="450.35" cy="87.58" r="1.25" fill="#e6007e"/>
<circle cx="464.02" cy="88.84" r="1.25" fill="#e6007e"/>
<circle cx="382.50" cy="36.30" r="1.4" fill="#b5b8bc"/>
<text x="388.5" y="39.099999999999994" font-size="8" text-anchor="start" fill="#2a2a2a" stroke="#2a2a2a" stroke-width="0.18" textLength="13.5" lengthAdjust="spacingAndGlyphs" >PBS</text>
<circle cx="382.50" cy="44.20" r="1.4" fill="#f7941d"/>
<text x="388.5" y="46.99999999999999" font-size="8" text-anchor="start" fill="#2a2a2a" stroke="#2a2a2a" stroke-width="0.18" textLength="19.5" lengthAdjust="spacingAndGlyphs" >hemin</text>
<circle cx="382.50" cy="52.10" r="1.4" fill="#e6007e"/>
<text x="388.5" y="54.89999999999999" font-size="8" text-anchor="start" fill="#2a2a2a" stroke="#2a2a2a" stroke-width="0.18" textLength="43" lengthAdjust="spacingAndGlyphs" >Hemin/L2HG</text>
<text x="436.68" y="71.9" font-size="9.2" text-anchor="middle" fill="#333" stroke="#333" stroke-width="0.18" >*</text>
<text x="450.35" y="71.9" font-size="9.2" text-anchor="middle" fill="#333" stroke="#333" stroke-width="0.18" >***</text>
<text x="464.52" y="75.4" font-size="9.2" text-anchor="middle" fill="#333" stroke="#333" stroke-width="0.18" >***</text>
<text x="423.01" y="90.2" font-size="9.2" text-anchor="middle" fill="#333" stroke="#333" stroke-width="0.18" >***</text>
<text x="436.68" y="85.4" font-size="9.2" text-anchor="middle" fill="#333" stroke="#333" stroke-width="0.18" >***</text>
<text x="450.35" y="86.9" font-size="9.2" text-anchor="middle" fill="#333" stroke="#333" stroke-width="0.18" >***</text>
<text x="464.52" y="87.4" font-size="9.2" text-anchor="middle" fill="#333" stroke="#333" stroke-width="0.18" >***</text>
<text x="15.3" y="239.7" font-size="8.6" text-anchor="middle" fill="#2a2a2a" stroke="#2a2a2a" stroke-width="0.18" transform="rotate(-90 15.3 239.7)" textLength="55" lengthAdjust="spacingAndGlyphs" >Cell viability (%)</text>
<line x1="39.5" y1="203" x2="39.5" y2="279.2" stroke="#222" stroke-width="0.9" />
<line x1="39.1" y1="278.8" x2="130" y2="278.8" stroke="#222" stroke-width="0.9" />
<line x1="36.1" y1="278.8" x2="39.5" y2="278.8" stroke="#222" stroke-width="0.8" />
<text x="33.5" y="281.6" font-size="7.9" text-anchor="end" fill="#2a2a2a" stroke="#2a2a2a" stroke-width="0.18" textLength="4.39" lengthAdjust="spacingAndGlyphs" >0</text>
<line x1="36.1" y1="253.965" x2="39.5" y2="253.965" stroke="#222" stroke-width="0.8" />
<text x="33.5" y="256.765" font-size="7.9" text-anchor="end" fill="#2a2a2a" stroke="#2a2a2a" stroke-width="0.18" textLength="8.79" lengthAdjust="spacingAndGlyphs" >50</text>
<line x1="36.1" y1="229.13000000000002" x2="39.5" y2="229.13000000000002" stroke="#222" stroke-width="0.8" />
<text x="33.5" y="231.93000000000004" font-size="7.9" text-anchor="end" fill="#2a2a2a" stroke="#2a2a2a" stroke-width="0.18" textLength="12.13" lengthAdjust="spacingAndGlyphs" >100</text>
<line x1="36.1" y1="204.29500000000002" x2="39.5" y2="204.29500000000002" stroke="#222" stroke-width="0.8" />
<text x="33.5" y="207.09500000000003" font-size="7.9" text-anchor="end" fill="#2a2a2a" stroke="#2a2a2a" stroke-width="0.18" textLength="12.13" lengthAdjust="spacingAndGlyphs" >150</text>
<rect x="47.50" y="232.11" width="12.50" height="46.69" fill="#b9bbc0" stroke="none" stroke-width="0.5" />
<line x1="53.75" y1="278.8" x2="53.75" y2="282.2" stroke="#222" stroke-width="0.8" />
<line x1="53.75" y1="229.62670000000003" x2="53.75" y2="234.5937" stroke="#1f5f8f" stroke-width="0.9" />
<line x1="50.45" y1="229.62670000000003" x2="57.05" y2="229.62670000000003" stroke="#1f5f8f" stroke-width="0.9" />
<line x1="50.45" y1="234.5937" x2="57.05" y2="234.5937" stroke="#1f5f8f" stroke-width="0.9" />
<circle cx="53.75" cy="234.10" r="1.2" fill="#1f5f8f"/>
<circle cx="52.95" cy="232.61" r="1.2" fill="#1f5f8f"/>
<circle cx="54.55" cy="231.37" r="1.2" fill="#1f5f8f"/>
<circle cx="53.75" cy="229.88" r="1.2" fill="#1f5f8f"/>
<text x="58.0" y="288.2" font-size="8.4" text-anchor="end" fill="#2a2a2a" stroke="#2a2a2a" stroke-width="0.18" transform="rotate(-45 58.0 288.2)" textLength="48.56" lengthAdjust="spacingAndGlyphs" >No treatment</text>
<rect x="68.00" y="234.25" width="12.50" height="44.55" fill="#3fae49" stroke="none" stroke-width="0.5" />
<line x1="74.25" y1="278.8" x2="74.25" y2="282.2" stroke="#222" stroke-width="0.8" />
<line x1="74.25" y1="231.51416" x2="74.25" y2="236.97786000000002" stroke="#1f5f8f" stroke-width="0.9" />
<line x1="70.95" y1="231.51416" x2="77.55" y2="231.51416" stroke="#1f5f8f" stroke-width="0.9" />
<line x1="70.95" y1="236.97786000000002" x2="77.55" y2="236.97786000000002" stroke="#1f5f8f" stroke-width="0.9" />
<circle cx="74.25" cy="236.43" r="1.2" fill="#1f5f8f"/>
<circle cx="73.45" cy="234.79" r="1.2" fill="#1f5f8f"/>
<circle cx="75.05" cy="233.43" r="1.2" fill="#1f5f8f"/>
<circle cx="74.25" cy="231.79" r="1.2" fill="#1f5f8f"/>
<text x="78.5" y="288.2" font-size="8.4" text-anchor="end" fill="#2a2a2a" stroke="#2a2a2a" stroke-width="0.18" transform="rotate(-45 78.5 288.2)" textLength="46.39" lengthAdjust="spacingAndGlyphs" >20µM hemin</text>
<rect x="88.80" y="232.61" width="12.50" height="46.19" fill="#f7941d" stroke="none" stroke-width="0.5" />
<line x1="95.05" y1="278.8" x2="95.05" y2="282.2" stroke="#222" stroke-width="0.8" />
<line x1="95.05" y1="229.62670000000003" x2="95.05" y2="235.58710000000002" stroke="#1f5f8f" stroke-width="0.9" />
<line x1="91.75" y1="229.62670000000003" x2="98.35" y2="229.62670000000003" stroke="#1f5f8f" stroke-width="0.9" />
<line x1="91.75" y1="235.58710000000002" x2="98.35" y2="235.58710000000002" stroke="#1f5f8f" stroke-width="0.9" />
<circle cx="95.05" cy="234.99" r="1.2" fill="#1f5f8f"/>
<circle cx="94.25" cy="233.20" r="1.2" fill="#1f5f8f"/>
<circle cx="95.85" cy="231.71" r="1.2" fill="#1f5f8f"/>
<circle cx="95.05" cy="229.92" r="1.2" fill="#1f5f8f"/>
<text x="99.2" y="288.2" font-size="8.4" text-anchor="end" fill="#2a2a2a" stroke="#2a2a2a" stroke-width="0.18" transform="rotate(-45 99.2 288.2)" textLength="50.13" lengthAdjust="spacingAndGlyphs" >250µM L2HG</text>
<rect x="109.30" y="251.23" width="12.50" height="27.57" fill="#e6007e" stroke="none" stroke-width="0.5" />
<line x1="115.55" y1="278.8" x2="115.55" y2="282.2" stroke="#222" stroke-width="0.8" />
<line x1="115.55" y1="241.79585000000003" x2="115.55" y2="260.67045" stroke="#1f5f8f" stroke-width="0.9" />
<line x1="112.25" y1="241.79585000000003" x2="118.85" y2="241.79585000000003" stroke="#1f5f8f" stroke-width="0.9" />
<line x1="112.25" y1="260.67045" x2="118.85" y2="260.67045" stroke="#1f5f8f" stroke-width="0.9" />
<circle cx="115.55" cy="258.78" r="1.2" fill="#1f5f8f"/>
<circle cx="114.75" cy="253.12" r="1.2" fill="#1f5f8f"/>
<circle cx="116.35" cy="248.40" r="1.2" fill="#1f5f8f"/>
<circle cx="115.55" cy="242.74" r="1.2" fill="#1f5f8f"/>
<text x="119.8" y="288.2" font-size="8.4" text-anchor="end" fill="#2a2a2a" stroke="#2a2a2a" stroke-width="0.18" transform="rotate(-45 119.8 288.2)" textLength="48.55" lengthAdjust="spacingAndGlyphs" >Hemin/L2HG</text>
<text x="115.5" y="239" font-size="8" text-anchor="middle" fill="#2a2a2a" stroke="#2a2a2a" stroke-width="0.18" >*</text>
<clipPath id="clipD"><rect x="199.3" y="200" width="72.7" height="120"/></clipPath>
<rect x="199.30" y="214.20" width="72.70" height="17.10" fill="#e2e2e2" stroke="none" stroke-width="0.5" />
<text x="196" y="225.65" font-size="8.2" text-anchor="end" fill="#2a2a2a" stroke="#2a2a2a" stroke-width="0.18" textLength="29" lengthAdjust="spacingAndGlyphs" >HMOX1</text>
<rect x="199.30" y="233.80" width="72.70" height="16.70" fill="#d0d0d0" stroke="none" stroke-width="0.5" />
<text x="196" y="245.05" font-size="8.2" text-anchor="end" fill="#2a2a2a" stroke="#2a2a2a" stroke-width="0.18" textLength="18.6" lengthAdjust="spacingAndGlyphs" >FTH1</text>
<rect x="199.30" y="253.00" width="72.70" height="16.50" fill="#d4d4d4" stroke="none" stroke-width="0.5" />
<text x="196" y="264.15" font-size="8.2" text-anchor="end" fill="#2a2a2a" stroke="#2a2a2a" stroke-width="0.18" textLength="18.8" lengthAdjust="spacingAndGlyphs" >FTL1</text>
<rect x="199.30" y="271.30" width="72.70" height="16.20" fill="#d2d2d2" stroke="none" stroke-width="0.5" />
<text x="196" y="282.29999999999995" font-size="8.2" text-anchor="end" fill="#2a2a2a" stroke="#2a2a2a" stroke-width="0.18" textLength="34" lengthAdjust="spacingAndGlyphs" >SLC7A11</text>
<rect x="199.30" y="290.00" width="72.70" height="16.30" fill="#dedede" stroke="none" stroke-width="0.5" />
<text x="196" y="301.04999999999995" font-size="8.2" text-anchor="end" fill="#2a2a2a" stroke="#2a2a2a" stroke-width="0.18" textLength="26" lengthAdjust="spacingAndGlyphs" >Tubulin</text>
<g clip-path="url(#clipD)">
<rect x="203.00" y="220.30" width="10.00" height="2.40" rx="1.20" fill="#000" opacity="0.5" filter="url(#b1)"/>
<rect x="237.50" y="219.70" width="14.00" height="3.60" rx="1.80" fill="#000" opacity="1" filter="url(#b05)"/>
<rect x="237.00" y="219.30" width="15.00" height="4.40" rx="2.20" fill="#000" opacity="0.4" filter="url(#b1)"/>
<rect x="258.00" y="220.50" width="8.00" height="2.00" rx="1.00" fill="#000" opacity="0.15" filter="url(#b1)"/>
<rect x="199.50" y="240.00" width="15.00" height="4.00" rx="2.00" fill="#000" opacity="1" filter="url(#b05)"/>
<rect x="199.00" y="239.50" width="16.00" height="5.00" rx="2.50" fill="#000" opacity="0.4" filter="url(#b1)"/>
<rect x="220.50" y="240.30" width="12.00" height="3.40" rx="1.70" fill="#000" opacity="0.9" filter="url(#b05)"/>
<rect x="220.00" y="239.80" width="13.00" height="4.40" rx="2.20" fill="#000" opacity="0.36000000000000004" filter="url(#b1)"/>
<rect x="236.75" y="239.00" width="15.50" height="6.00" rx="3.00" fill="#000" opacity="1" filter="url(#b05)"/>
<rect x="236.25" y="238.50" width="16.50" height="7.00" rx="3.50" fill="#000" opacity="0.4" filter="url(#b1)"/>
<rect x="256.00" y="240.20" width="13.00" height="3.60" rx="1.80" fill="#000" opacity="0.9" filter="url(#b05)"/>
<rect x="255.50" y="239.70" width="14.00" height="4.60" rx="2.30" fill="#000" opacity="0.36000000000000004" filter="url(#b1)"/>
<rect x="199.50" y="259.20" width="15.00" height="4.20" rx="2.10" fill="#000" opacity="1" filter="url(#b05)"/>
<rect x="199.00" y="258.70" width="16.00" height="5.20" rx="2.60" fill="#000" opacity="0.4" filter="url(#b1)"/>
<rect x="220.50" y="259.50" width="12.00" height="3.60" rx="1.80" fill="#000" opacity="0.9" filter="url(#b05)"/>
<rect x="220.00" y="259.00" width="13.00" height="4.60" rx="2.30" fill="#000" opacity="0.36000000000000004" filter="url(#b1)"/>
<rect x="236.50" y="258.10" width="16.00" height="6.40" rx="3.20" fill="#000" opacity="1" filter="url(#b05)"/>
<rect x="236.00" y="257.60" width="17.00" height="7.40" rx="3.70" fill="#000" opacity="0.4" filter="url(#b1)"/>
<rect x="256.50" y="259.60" width="12.00" height="3.40" rx="1.70" fill="#000" opacity="0.8" filter="url(#b05)"/>
<rect x="256.00" y="259.10" width="13.00" height="4.40" rx="2.20" fill="#000" opacity="0.32000000000000006" filter="url(#b1)"/>
<rect x="200.50" y="277.60" width="13.00" height="2.80" rx="1.40" fill="#000" opacity="0.9" filter="url(#b05)"/>
<rect x="200.00" y="277.10" width="14.00" height="3.80" rx="1.90" fill="#000" opacity="0.27" filter="url(#b1)"/>
<rect x="221.00" y="277.70" width="11.00" height="2.60" rx="1.30" fill="#000" opacity="0.4" filter="url(#b05)"/>
<rect x="220.50" y="277.20" width="12.00" height="3.60" rx="1.80" fill="#000" opacity="0.12" filter="url(#b1)"/>
<rect x="237.75" y="277.20" width="13.50" height="3.60" rx="1.80" fill="#000" opacity="0.95" filter="url(#b05)"/>
<rect x="237.25" y="276.70" width="14.50" height="4.60" rx="2.30" fill="#000" opacity="0.285" filter="url(#b1)"/>
<rect x="257.00" y="277.70" width="11.00" height="2.60" rx="1.30" fill="#000" opacity="0.55" filter="url(#b05)"/>
<rect x="256.50" y="277.20" width="12.00" height="3.60" rx="1.80" fill="#000" opacity="0.165" filter="url(#b1)"/>
<rect x="201.00" y="296.75" width="13.00" height="2.90" rx="1.45" fill="#000" opacity="0.95" filter="url(#b05)"/>
<rect x="200.50" y="296.30" width="14.00" height="3.80" rx="1.90" fill="#000" opacity="0.35" filter="url(#b1)"/>
<rect x="220.00" y="296.75" width="13.00" height="2.90" rx="1.45" fill="#000" opacity="0.95" filter="url(#b05)"/>
<rect x="219.50" y="296.30" width="14.00" height="3.80" rx="1.90" fill="#000" opacity="0.35" filter="url(#b1)"/>
<rect x="237.50" y="296.75" width="13.00" height="2.90" rx="1.45" fill="#000" opacity="0.95" filter="url(#b05)"/>
<rect x="237.00" y="296.30" width="14.00" height="3.80" rx="1.90" fill="#000" opacity="0.35" filter="url(#b1)"/>
<rect x="255.50" y="296.75" width="13.00" height="2.90" rx="1.45" fill="#000" opacity="0.95" filter="url(#b05)"/>
<rect x="255.00" y="296.30" width="14.00" height="3.80" rx="1.90" fill="#000" opacity="0.35" filter="url(#b1)"/>
</g>
<rect x="199.30" y="214.20" width="72.70" height="17.10" fill="none" stroke="#1a1a1a" stroke-width="0.9" />
<rect x="199.30" y="233.80" width="72.70" height="16.70" fill="none" stroke="#1a1a1a" stroke-width="0.9" />
<rect x="199.30" y="253.00" width="72.70" height="16.50" fill="none" stroke="#1a1a1a" stroke-width="0.9" />
<rect x="199.30" y="271.30" width="72.70" height="16.20" fill="none" stroke="#1a1a1a" stroke-width="0.9" />
<rect x="199.30" y="290.00" width="72.70" height="16.30" fill="none" stroke="#1a1a1a" stroke-width="0.9" />
<text x="196" y="199.3" font-size="8" text-anchor="end" fill="#2a2a2a" stroke="#2a2a2a" stroke-width="0.18" textLength="21.5" lengthAdjust="spacingAndGlyphs" >hemin</text>
<text x="196" y="210.3" font-size="8" text-anchor="end" fill="#2a2a2a" stroke="#2a2a2a" stroke-width="0.18" textLength="44" lengthAdjust="spacingAndGlyphs" >TFMB-L2HG</text>
<text x="207.5" y="199.4" font-size="7.8" text-anchor="middle" fill="#444" stroke="#444" stroke-width="0.18" >–</text>
<text x="207.5" y="210.2" font-size="7.8" text-anchor="middle" fill="#444" stroke="#444" stroke-width="0.18" >–</text>
<text x="226.5" y="199.4" font-size="7.8" text-anchor="middle" fill="#444" stroke="#444" stroke-width="0.18" >–</text>
<text x="226.5" y="210.2" font-size="7.8" text-anchor="middle" fill="#444" stroke="#444" stroke-width="0.18" >+</text>
<text x="244" y="199.4" font-size="7.8" text-anchor="middle" fill="#444" stroke="#444" stroke-width="0.18" >+</text>
<text x="244" y="210.2" font-size="7.8" text-anchor="middle" fill="#444" stroke="#444" stroke-width="0.18" >–</text>
<text x="262" y="199.4" font-size="7.8" text-anchor="middle" fill="#444" stroke="#444" stroke-width="0.18" >+</text>
<text x="262" y="210.2" font-size="7.8" text-anchor="middle" fill="#444" stroke="#444" stroke-width="0.18" >+</text>
<text x="287.4" y="245.5" font-size="8.6" text-anchor="middle" fill="#2a2a2a" stroke="#2a2a2a" stroke-width="0.18" transform="rotate(-90 287.4 245.5)" textLength="27.5" lengthAdjust="spacingAndGlyphs" >Relative</text>
<text x="299.6" y="245.5" font-size="8.6" text-anchor="middle" fill="#2a2a2a" stroke="#2a2a2a" stroke-width="0.18" transform="rotate(-90 299.6 245.5)" textLength="56.5" lengthAdjust="spacingAndGlyphs" >expression (fold)</text>
<line x1="314.1" y1="212.5" x2="314.1" y2="279.2" stroke="#222" stroke-width="0.9" />
<line x1="310.70000000000005" y1="278.8" x2="314.1" y2="278.8" stroke="#222" stroke-width="0.8" />
<text x="309.1" y="282.1" font-size="7.9" text-anchor="end" fill="#2a2a2a" stroke="#2a2a2a" stroke-width="0.18" textLength="4.39" lengthAdjust="spacingAndGlyphs" >0</text>
<line x1="310.70000000000005" y1="265.95" x2="314.1" y2="265.95" stroke="#222" stroke-width="0.8" />
<text x="309.1" y="269.25" font-size="7.9" text-anchor="end" fill="#2a2a2a" stroke="#2a2a2a" stroke-width="0.18" textLength="4.04" lengthAdjust="spacingAndGlyphs" >1</text>
<line x1="310.70000000000005" y1="253.10000000000002" x2="314.1" y2="253.10000000000002" stroke="#222" stroke-width="0.8" />
<text x="309.1" y="256.40000000000003" font-size="7.9" text-anchor="end" fill="#2a2a2a" stroke="#2a2a2a" stroke-width="0.18" textLength="4.39" lengthAdjust="spacingAndGlyphs" >2</text>
<line x1="310.70000000000005" y1="240.25" x2="314.1" y2="240.25" stroke="#222" stroke-width="0.8" />
<text x="309.1" y="243.55" font-size="7.9" text-anchor="end" fill="#2a2a2a" stroke="#2a2a2a" stroke-width="0.18" textLength="4.39" lengthAdjust="spacingAndGlyphs" >3</text>
<line x1="310.70000000000005" y1="227.4" x2="314.1" y2="227.4" stroke="#222" stroke-width="0.8" />
<text x="309.1" y="230.70000000000002" font-size="7.9" text-anchor="end" fill="#2a2a2a" stroke="#2a2a2a" stroke-width="0.18" textLength="4.39" lengthAdjust="spacingAndGlyphs" >4</text>
<line x1="310.70000000000005" y1="214.55" x2="314.1" y2="214.55" stroke="#222" stroke-width="0.8" />
<text x="309.1" y="217.85000000000002" font-size="7.9" text-anchor="end" fill="#2a2a2a" stroke="#2a2a2a" stroke-width="0.18" textLength="4.39" lengthAdjust="spacingAndGlyphs" >5</text>
<line x1="313.70000000000005" y1="278.8" x2="415" y2="278.8" stroke="#222" stroke-width="0.9" />
<rect x="317.50" y="265.95" width="5.12" height="12.85" fill="#b9bbc0" stroke="none" stroke-width="0.5" />
<line x1="320.06" y1="264.5365" x2="320.06" y2="267.3635" stroke="#1f5f8f" stroke-width="0.6" />
<line x1="318.46" y1="264.5365" x2="321.66" y2="264.5365" stroke="#1f5f8f" stroke-width="0.6" />
<line x1="318.46" y1="267.3635" x2="321.66" y2="267.3635" stroke="#1f5f8f" stroke-width="0.6" />
<circle cx="319.06" cy="265.10" r="1.1" fill="#1f5f8f"/>
<circle cx="321.06" cy="266.37" r="1.1" fill="#1f5f8f"/>
<circle cx="320.06" cy="265.81" r="1.0" fill="#1f5f8f"/>
<rect x="322.62" y="275.84" width="5.12" height="2.96" fill="#3fae49" stroke="none" stroke-width="0.5" />
<line x1="325.18" y1="274.925725" x2="325.18" y2="276.763275" stroke="#1f5f8f" stroke-width="0.6" />
<line x1="323.58" y1="274.925725" x2="326.78000000000003" y2="274.925725" stroke="#1f5f8f" stroke-width="0.6" />
<line x1="323.58" y1="276.763275" x2="326.78000000000003" y2="276.763275" stroke="#1f5f8f" stroke-width="0.6" />
<circle cx="324.18" cy="275.29" r="1.1" fill="#1f5f8f"/>
<circle cx="326.18" cy="276.12" r="1.1" fill="#1f5f8f"/>
<circle cx="325.18" cy="275.75" r="1.0" fill="#1f5f8f"/>
<rect x="327.74" y="231.90" width="5.12" height="46.90" fill="#f7941d" stroke="none" stroke-width="0.5" />
<line x1="330.3" y1="228.78137500000003" x2="330.3" y2="235.01362500000002" stroke="#1f5f8f" stroke-width="0.6" />
<line x1="328.7" y1="228.78137500000003" x2="331.90000000000003" y2="228.78137500000003" stroke="#1f5f8f" stroke-width="0.6" />
<line x1="328.7" y1="235.01362500000002" x2="331.90000000000003" y2="235.01362500000002" stroke="#1f5f8f" stroke-width="0.6" />
<circle cx="329.30" cy="230.03" r="1.1" fill="#1f5f8f"/>
<circle cx="331.30" cy="232.83" r="1.1" fill="#1f5f8f"/>
<circle cx="330.30" cy="231.59" r="1.0" fill="#1f5f8f"/>
<rect x="332.86" y="274.30" width="5.12" height="4.50" fill="#e6007e" stroke="none" stroke-width="0.5" />
<line x1="335.42" y1="273.306625" x2="335.42" y2="275.298375" stroke="#1f5f8f" stroke-width="0.6" />
<line x1="333.82" y1="273.306625" x2="337.02000000000004" y2="273.306625" stroke="#1f5f8f" stroke-width="0.6" />
<line x1="333.82" y1="275.298375" x2="337.02000000000004" y2="275.298375" stroke="#1f5f8f" stroke-width="0.6" />
<circle cx="334.42" cy="273.70" r="1.1" fill="#1f5f8f"/>
<circle cx="336.42" cy="274.60" r="1.1" fill="#1f5f8f"/>
<circle cx="335.42" cy="274.20" r="1.0" fill="#1f5f8f"/>
<line x1="316.0" y1="282.0" x2="338.18" y2="282.0" stroke="#333" stroke-width="0.8" />
<text x="330.2" y="288.8" font-size="8.2" text-anchor="end" fill="#2a2a2a" stroke="#2a2a2a" stroke-width="0.18" transform="rotate(-45 330.2 288.8)" textLength="29.16" lengthAdjust="spacingAndGlyphs" >HMOX1</text>
<rect x="343.00" y="266.85" width="5.12" height="11.95" fill="#b9bbc0" stroke="none" stroke-width="0.5" />
<line x1="345.56" y1="265.480975" x2="345.56" y2="268.218025" stroke="#1f5f8f" stroke-width="0.6" />
<line x1="343.96" y1="265.480975" x2="347.16" y2="265.480975" stroke="#1f5f8f" stroke-width="0.6" />
<line x1="343.96" y1="268.218025" x2="347.16" y2="268.218025" stroke="#1f5f8f" stroke-width="0.6" />
<circle cx="344.56" cy="266.03" r="1.1" fill="#1f5f8f"/>
<circle cx="346.56" cy="267.26" r="1.1" fill="#1f5f8f"/>
<circle cx="345.56" cy="266.71" r="1.0" fill="#1f5f8f"/>
<rect x="348.12" y="268.01" width="5.12" height="10.79" fill="#3fae49" stroke="none" stroke-width="0.5" />
<line x1="350.68" y1="266.69530000000003" x2="350.68" y2="269.3167" stroke="#1f5f8f" stroke-width="0.6" />
<line x1="349.08" y1="266.69530000000003" x2="352.28000000000003" y2="266.69530000000003" stroke="#1f5f8f" stroke-width="0.6" />
<line x1="349.08" y1="269.3167" x2="352.28000000000003" y2="269.3167" stroke="#1f5f8f" stroke-width="0.6" />
<circle cx="349.68" cy="267.22" r="1.1" fill="#1f5f8f"/>
<circle cx="351.68" cy="268.40" r="1.1" fill="#1f5f8f"/>
<circle cx="350.68" cy="267.87" r="1.0" fill="#1f5f8f"/>
<rect x="353.24" y="261.71" width="5.12" height="17.09" fill="#f7941d" stroke="none" stroke-width="0.5" />
<line x1="355.8" y1="260.083975" x2="355.8" y2="263.33502500000003" stroke="#1f5f8f" stroke-width="0.6" />
<line x1="354.2" y1="260.083975" x2="357.40000000000003" y2="260.083975" stroke="#1f5f8f" stroke-width="0.6" />
<line x1="354.2" y1="263.33502500000003" x2="357.40000000000003" y2="263.33502500000003" stroke="#1f5f8f" stroke-width="0.6" />
<circle cx="354.80" cy="260.73" r="1.1" fill="#1f5f8f"/>
<circle cx="356.80" cy="262.20" r="1.1" fill="#1f5f8f"/>
<circle cx="355.80" cy="261.55" r="1.0" fill="#1f5f8f"/>
<rect x="358.36" y="269.55" width="5.12" height="9.25" fill="#e6007e" stroke="none" stroke-width="0.5" />
<line x1="360.92" y1="268.31440000000003" x2="360.92" y2="270.7816" stroke="#1f5f8f" stroke-width="0.6" />
<line x1="359.32" y1="268.31440000000003" x2="362.52000000000004" y2="268.31440000000003" stroke="#1f5f8f" stroke-width="0.6" />
<line x1="359.32" y1="270.7816" x2="362.52000000000004" y2="270.7816" stroke="#1f5f8f" stroke-width="0.6" />
<circle cx="359.92" cy="268.81" r="1.1" fill="#1f5f8f"/>
<circle cx="361.92" cy="269.92" r="1.1" fill="#1f5f8f"/>
<circle cx="360.92" cy="269.42" r="1.0" fill="#1f5f8f"/>
<line x1="341.5" y1="282.0" x2="363.68" y2="282.0" stroke="#333" stroke-width="0.8" />
<text x="355.7" y="288.8" font-size="8.2" text-anchor="end" fill="#2a2a2a" stroke="#2a2a2a" stroke-width="0.18" transform="rotate(-45 355.7 288.8)" textLength="20.5" lengthAdjust="spacingAndGlyphs" >FTH1</text>
<rect x="368.30" y="266.34" width="5.12" height="12.46" fill="#b9bbc0" stroke="none" stroke-width="0.5" />
<line x1="370.86" y1="264.941275" x2="370.86" y2="267.72972500000003" stroke="#1f5f8f" stroke-width="0.6" />
<line x1="369.26" y1="264.941275" x2="372.46000000000004" y2="264.941275" stroke="#1f5f8f" stroke-width="0.6" />
<line x1="369.26" y1="267.72972500000003" x2="372.46000000000004" y2="267.72972500000003" stroke="#1f5f8f" stroke-width="0.6" />
<circle cx="369.86" cy="265.50" r="1.1" fill="#1f5f8f"/>
<circle cx="371.86" cy="266.75" r="1.1" fill="#1f5f8f"/>
<circle cx="370.86" cy="266.20" r="1.0" fill="#1f5f8f"/>
<rect x="373.42" y="270.06" width="5.12" height="8.74" fill="#3fae49" stroke="none" stroke-width="0.5" />
<line x1="375.98" y1="268.8541" x2="375.98" y2="271.2699" stroke="#1f5f8f" stroke-width="0.6" />
<line x1="374.38" y1="268.8541" x2="377.58000000000004" y2="268.8541" stroke="#1f5f8f" stroke-width="0.6" />
<line x1="374.38" y1="271.2699" x2="377.58000000000004" y2="271.2699" stroke="#1f5f8f" stroke-width="0.6" />
<circle cx="374.98" cy="269.34" r="1.1" fill="#1f5f8f"/>
<circle cx="376.98" cy="270.42" r="1.1" fill="#1f5f8f"/>
<circle cx="375.98" cy="269.94" r="1.0" fill="#1f5f8f"/>
<rect x="378.54" y="258.75" width="5.12" height="20.05" fill="#f7941d" stroke="none" stroke-width="0.5" />
<line x1="381.1" y1="256.9807" x2="381.1" y2="260.5273" stroke="#1f5f8f" stroke-width="0.6" />
<line x1="379.5" y1="256.9807" x2="382.70000000000005" y2="256.9807" stroke="#1f5f8f" stroke-width="0.6" />
<line x1="379.5" y1="260.5273" x2="382.70000000000005" y2="260.5273" stroke="#1f5f8f" stroke-width="0.6" />
<circle cx="380.10" cy="257.69" r="1.1" fill="#1f5f8f"/>
<circle cx="382.10" cy="259.29" r="1.1" fill="#1f5f8f"/>
<circle cx="381.10" cy="258.58" r="1.0" fill="#1f5f8f"/>
<rect x="383.66" y="269.29" width="5.12" height="9.51" fill="#e6007e" stroke="none" stroke-width="0.5" />
<line x1="386.22" y1="268.04455" x2="386.22" y2="270.53745000000004" stroke="#1f5f8f" stroke-width="0.6" />
<line x1="384.62" y1="268.04455" x2="387.82000000000005" y2="268.04455" stroke="#1f5f8f" stroke-width="0.6" />
<line x1="384.62" y1="270.53745000000004" x2="387.82000000000005" y2="270.53745000000004" stroke="#1f5f8f" stroke-width="0.6" />
<circle cx="385.22" cy="268.54" r="1.1" fill="#1f5f8f"/>
<circle cx="387.22" cy="269.66" r="1.1" fill="#1f5f8f"/>
<circle cx="386.22" cy="269.17" r="1.0" fill="#1f5f8f"/>
<line x1="366.8" y1="282.0" x2="388.98" y2="282.0" stroke="#333" stroke-width="0.8" />
<text x="381.0" y="288.8" font-size="8.2" text-anchor="end" fill="#2a2a2a" stroke="#2a2a2a" stroke-width="0.18" transform="rotate(-45 381.0 288.8)" textLength="19.14" lengthAdjust="spacingAndGlyphs" >FTL1</text>
<rect x="393.70" y="265.95" width="5.12" height="12.85" fill="#b9bbc0" stroke="none" stroke-width="0.5" />
<line x1="396.26" y1="264.5365" x2="396.26" y2="267.3635" stroke="#1f5f8f" stroke-width="0.6" />
<line x1="394.65999999999997" y1="264.5365" x2="397.86" y2="264.5365" stroke="#1f5f8f" stroke-width="0.6" />
<line x1="394.65999999999997" y1="267.3635" x2="397.86" y2="267.3635" stroke="#1f5f8f" stroke-width="0.6" />
<circle cx="395.26" cy="265.10" r="1.1" fill="#1f5f8f"/>
<circle cx="397.26" cy="266.37" r="1.1" fill="#1f5f8f"/>
<circle cx="396.26" cy="265.81" r="1.0" fill="#1f5f8f"/>
<rect x="398.82" y="274.30" width="5.12" height="4.50" fill="#3fae49" stroke="none" stroke-width="0.5" />
<line x1="401.38" y1="273.306625" x2="401.38" y2="275.298375" stroke="#1f5f8f" stroke-width="0.6" />
<line x1="399.78" y1="273.306625" x2="402.98" y2="273.306625" stroke="#1f5f8f" stroke-width="0.6" />
<line x1="399.78" y1="275.298375" x2="402.98" y2="275.298375" stroke="#1f5f8f" stroke-width="0.6" />
<circle cx="400.38" cy="273.70" r="1.1" fill="#1f5f8f"/>
<circle cx="402.38" cy="274.60" r="1.1" fill="#1f5f8f"/>
<circle cx="401.38" cy="274.20" r="1.0" fill="#1f5f8f"/>
<rect x="403.94" y="260.17" width="5.12" height="18.63" fill="#f7941d" stroke="none" stroke-width="0.5" />
<line x1="406.5" y1="258.464875" x2="406.5" y2="261.87012500000003" stroke="#1f5f8f" stroke-width="0.6" />
<line x1="404.9" y1="258.464875" x2="408.1" y2="258.464875" stroke="#1f5f8f" stroke-width="0.6" />
<line x1="404.9" y1="261.87012500000003" x2="408.1" y2="261.87012500000003" stroke="#1f5f8f" stroke-width="0.6" />
<circle cx="405.50" cy="259.15" r="1.1" fill="#1f5f8f"/>
<circle cx="407.50" cy="260.68" r="1.1" fill="#1f5f8f"/>
<circle cx="406.50" cy="260.00" r="1.0" fill="#1f5f8f"/>
<rect x="409.06" y="271.09" width="5.12" height="7.71" fill="#e6007e" stroke="none" stroke-width="0.5" />
<line x1="411.62" y1="269.93350000000004" x2="411.62" y2="272.2465" stroke="#1f5f8f" stroke-width="0.6" />
<line x1="410.02" y1="269.93350000000004" x2="413.22" y2="269.93350000000004" stroke="#1f5f8f" stroke-width="0.6" />
<line x1="410.02" y1="272.2465" x2="413.22" y2="272.2465" stroke="#1f5f8f" stroke-width="0.6" />
<circle cx="410.62" cy="270.40" r="1.1" fill="#1f5f8f"/>
<circle cx="412.62" cy="271.44" r="1.1" fill="#1f5f8f"/>
<circle cx="411.62" cy="270.97" r="1.0" fill="#1f5f8f"/>
<line x1="392.2" y1="282.0" x2="414.38" y2="282.0" stroke="#333" stroke-width="0.8" />
<text x="406.4" y="288.8" font-size="8.2" text-anchor="end" fill="#2a2a2a" stroke="#2a2a2a" stroke-width="0.18" transform="rotate(-45 406.4 288.8)" textLength="34.5" lengthAdjust="spacingAndGlyphs" >SLC7A11</text>
<polyline points="320.50,263.00 320.50,255.50 325.50,255.50 325.50,272.00" fill="none" stroke="#222" stroke-width="0.8"/>
<text x="323.0" y="255.3" font-size="8" text-anchor="middle" fill="#2a2a2a" stroke="#2a2a2a" stroke-width="0.18" >*</text>
<polyline points="330.50,226.00 330.50,217.50 336.00,217.50 336.00,271.00" fill="none" stroke="#222" stroke-width="0.8"/>
<text x="333.2" y="217.3" font-size="8" text-anchor="middle" fill="#2a2a2a" stroke="#2a2a2a" stroke-width="0.18" >*</text>
<polyline points="356.00,258.00 356.00,250.50 361.50,250.50 361.50,266.00" fill="none" stroke="#222" stroke-width="0.8"/>
<text x="358.8" y="250.3" font-size="8" text-anchor="middle" fill="#2a2a2a" stroke="#2a2a2a" stroke-width="0.18" >*</text>
<polyline points="381.50,255.00 381.50,247.50 387.00,247.50 387.00,266.00" fill="none" stroke="#222" stroke-width="0.8"/>
<text x="384.2" y="247.3" font-size="8" text-anchor="middle" fill="#2a2a2a" stroke="#2a2a2a" stroke-width="0.18" >*</text>
<polyline points="396.50,263.00 396.50,256.50 401.50,256.50 401.50,271.00" fill="none" stroke="#222" stroke-width="0.8"/>
<text x="399.0" y="256.3" font-size="8" text-anchor="middle" fill="#2a2a2a" stroke="#2a2a2a" stroke-width="0.18" >*</text>
<polyline points="406.70,256.00 406.70,252.50 412.00,252.50 412.00,267.00" fill="none" stroke="#222" stroke-width="0.8"/>
<text x="409.4" y="252.3" font-size="8" text-anchor="middle" fill="#2a2a2a" stroke="#2a2a2a" stroke-width="0.18" >*</text>
<rect x="427.00" y="226.10" width="5.40" height="5.40" fill="#b9bbc0" stroke="none" stroke-width="0.5" />
<text x="436.4" y="231.5" font-size="8" text-anchor="start" fill="#2a2a2a" stroke="#2a2a2a" stroke-width="0.18" textLength="12.2" lengthAdjust="spacingAndGlyphs" >Ctrl</text>
<rect x="427.00" y="237.10" width="5.40" height="5.40" fill="#f7941d" stroke="none" stroke-width="0.5" />
<text x="436.4" y="242.5" font-size="8" text-anchor="start" fill="#2a2a2a" stroke="#2a2a2a" stroke-width="0.18" textLength="31.8" lengthAdjust="spacingAndGlyphs" >(+) hemin</text>
<rect x="427.00" y="248.10" width="5.40" height="5.40" fill="#3fae49" stroke="none" stroke-width="0.5" />
<text x="436.4" y="253.5" font-size="8" text-anchor="start" fill="#2a2a2a" stroke="#2a2a2a" stroke-width="0.18" textLength="53" lengthAdjust="spacingAndGlyphs" >(+) TFMB-L2HG</text>
<rect x="427.00" y="259.10" width="5.40" height="5.40" fill="#e6007e" stroke="none" stroke-width="0.5" />
<text x="436.4" y="264.5" font-size="8" text-anchor="start" fill="#2a2a2a" stroke="#2a2a2a" stroke-width="0.18" textLength="77" lengthAdjust="spacingAndGlyphs" >(+) TFMB-L2HG/hemin</text>
<clipPath id="clipE"><rect x="177.5" y="337.5" width="100.0" height="100.5"/></clipPath>
<g clip-path="url(#clipE)">
<path d="M214.00,378.80 C215.00,378.55 218.33,378.30 220.00,377.30 C221.67,376.30 222.67,375.22 224.00,372.80 C225.33,370.38 226.83,366.30 228.00,362.80 C229.17,359.30 230.00,354.80 231.00,351.80 C232.00,348.80 233.08,346.47 234.00,344.80 C234.92,343.13 235.58,342.30 236.50,341.80 C237.42,341.30 238.50,341.13 239.50,341.80 C240.50,342.47 241.55,343.63 242.50,345.80 C243.45,347.97 244.32,351.30 245.20,354.80 C246.08,358.30 246.92,363.63 247.80,366.80 C248.68,369.97 249.47,372.22 250.50,373.80 C251.53,375.38 252.58,375.72 254.00,376.30 C255.42,376.88 257.33,376.88 259.00,377.30 C260.67,377.72 263.17,378.55 264.00,378.80 L264.00,378.8 L214.00,378.8 Z" fill="#ee4f9c" fill-opacity="0.62" stroke="none"/>
<path d="M177.5,378.8 L214.00,378.8 " fill="none"/>
<path d="M177.5,378.8 L214.00,378.80 C215.00,378.55 218.33,378.30 220.00,377.30 C221.67,376.30 222.67,375.22 224.00,372.80 C225.33,370.38 226.83,366.30 228.00,362.80 C229.17,359.30 230.00,354.80 231.00,351.80 C232.00,348.80 233.08,346.47 234.00,344.80 C234.92,343.13 235.58,342.30 236.50,341.80 C237.42,341.30 238.50,341.13 239.50,341.80 C240.50,342.47 241.55,343.63 242.50,345.80 C243.45,347.97 244.32,351.30 245.20,354.80 C246.08,358.30 246.92,363.63 247.80,366.80 C248.68,369.97 249.47,372.22 250.50,373.80 C251.53,375.38 252.58,375.72 254.00,376.30 C255.42,376.88 257.33,376.88 259.00,377.30 C260.67,377.72 263.17,378.55 264.00,378.80 L277.5,378.8" fill="none" stroke="#e6007e" stroke-width="0.9"/>
<path d="M206.00,398.80 C207.00,398.47 210.17,398.13 212.00,396.80 C213.83,395.47 215.33,393.47 217.00,390.80 C218.67,388.13 220.50,384.13 222.00,380.80 C223.50,377.47 224.83,373.38 226.00,370.80 C227.17,368.22 228.08,366.47 229.00,365.30 C229.92,364.13 230.67,363.72 231.50,363.80 C232.33,363.88 233.08,364.13 234.00,365.80 C234.92,367.47 236.00,370.63 237.00,373.80 C238.00,376.97 238.83,381.47 240.00,384.80 C241.17,388.13 242.50,391.63 244.00,393.80 C245.50,395.97 247.17,396.97 249.00,397.80 C250.83,398.63 254.00,398.63 255.00,398.80 L255.00,398.8 L206.00,398.8 Z" fill="#f9a040" fill-opacity="0.62" stroke="none"/>
<path d="M177.5,398.8 L206.00,398.8 " fill="none"/>
<path d="M177.5,398.8 L206.00,398.80 C207.00,398.47 210.17,398.13 212.00,396.80 C213.83,395.47 215.33,393.47 217.00,390.80 C218.67,388.13 220.50,384.13 222.00,380.80 C223.50,377.47 224.83,373.38 226.00,370.80 C227.17,368.22 228.08,366.47 229.00,365.30 C229.92,364.13 230.67,363.72 231.50,363.80 C232.33,363.88 233.08,364.13 234.00,365.80 C234.92,367.47 236.00,370.63 237.00,373.80 C238.00,376.97 238.83,381.47 240.00,384.80 C241.17,388.13 242.50,391.63 244.00,393.80 C245.50,395.97 247.17,396.97 249.00,397.80 C250.83,398.63 254.00,398.63 255.00,398.80 L277.5,398.8" fill="none" stroke="#f7941d" stroke-width="0.9"/>
<path d="M186.00,418.80 C187.17,418.47 190.67,417.63 193.00,416.80 C195.33,415.97 197.67,415.13 200.00,413.80 C202.33,412.47 204.83,410.97 207.00,408.80 C209.17,406.63 211.17,403.63 213.00,400.80 C214.83,397.97 216.50,394.30 218.00,391.80 C219.50,389.30 221.00,387.02 222.00,385.80 C223.00,384.58 223.17,384.33 224.00,384.50 C224.83,384.67 226.00,385.25 227.00,386.80 C228.00,388.35 229.00,390.80 230.00,393.80 C231.00,396.80 232.00,401.47 233.00,404.80 C234.00,408.13 234.83,411.63 236.00,413.80 C237.17,415.97 238.67,416.97 240.00,417.80 C241.33,418.63 243.33,418.63 244.00,418.80 L244.00,418.8 L186.00,418.8 Z" fill="#4cb050" fill-opacity="0.62" stroke="none"/>
<path d="M177.5,418.8 L186.00,418.8 " fill="none"/>
<path d="M177.5,418.8 L186.00,418.80 C187.17,418.47 190.67,417.63 193.00,416.80 C195.33,415.97 197.67,415.13 200.00,413.80 C202.33,412.47 204.83,410.97 207.00,408.80 C209.17,406.63 211.17,403.63 213.00,400.80 C214.83,397.97 216.50,394.30 218.00,391.80 C219.50,389.30 221.00,387.02 222.00,385.80 C223.00,384.58 223.17,384.33 224.00,384.50 C224.83,384.67 226.00,385.25 227.00,386.80 C228.00,388.35 229.00,390.80 230.00,393.80 C231.00,396.80 232.00,401.47 233.00,404.80 C234.00,408.13 234.83,411.63 236.00,413.80 C237.17,415.97 238.67,416.97 240.00,417.80 C241.33,418.63 243.33,418.63 244.00,418.80 L277.5,418.8" fill="none" stroke="#3fae49" stroke-width="0.9"/>
<path d="M189.00,438.00 C190.00,436.67 193.00,432.83 195.00,430.00 C197.00,427.17 199.17,423.67 201.00,421.00 C202.83,418.33 204.50,415.75 206.00,414.00 C207.50,412.25 208.67,411.00 210.00,410.50 C211.33,410.00 212.67,410.25 214.00,411.00 C215.33,411.75 216.67,412.83 218.00,415.00 C219.33,417.17 220.67,421.00 222.00,424.00 C223.33,427.00 224.83,430.67 226.00,433.00 C227.17,435.33 228.50,437.17 229.00,438.00 L229.00,438 L189.00,438 Z" fill="#b8b8b8" fill-opacity="0.62" stroke="none"/>
<path d="M177.5,438 L189.00,438 " fill="none"/>
<path d="M177.5,438 L189.00,438.00 C190.00,436.67 193.00,432.83 195.00,430.00 C197.00,427.17 199.17,423.67 201.00,421.00 C202.83,418.33 204.50,415.75 206.00,414.00 C207.50,412.25 208.67,411.00 210.00,410.50 C211.33,410.00 212.67,410.25 214.00,411.00 C215.33,411.75 216.67,412.83 218.00,415.00 C219.33,417.17 220.67,421.00 222.00,424.00 C223.33,427.00 224.83,430.67 226.00,433.00 C227.17,435.33 228.50,437.17 229.00,438.00 L277.5,438" fill="none" stroke="#b0b0b0" stroke-width="0.9"/>
</g>
<rect x="177.50" y="337.50" width="100.00" height="100.50" fill="none" stroke="#3a3a3a" stroke-width="1.1" />
<line x1="181.3" y1="438" x2="181.3" y2="440.2" stroke="#222" stroke-width="0.55" />
<line x1="184.31" y1="438" x2="184.31" y2="440.2" stroke="#222" stroke-width="0.55" />
<line x1="186.65" y1="438" x2="186.65" y2="440.2" stroke="#222" stroke-width="0.55" />
<line x1="188.55" y1="438" x2="188.55" y2="440.2" stroke="#222" stroke-width="0.55" />
<line x1="190.17" y1="438" x2="190.17" y2="440.2" stroke="#222" stroke-width="0.55" />
<line x1="191.56" y1="438" x2="191.56" y2="440.2" stroke="#222" stroke-width="0.55" />
<line x1="192.8" y1="438" x2="192.8" y2="440.2" stroke="#222" stroke-width="0.55" />
<line x1="193.9" y1="438" x2="193.9" y2="441.2" stroke="#222" stroke-width="0.55" />
<line x1="201.15" y1="438" x2="201.15" y2="440.2" stroke="#222" stroke-width="0.55" />
<line x1="205.4" y1="438" x2="205.4" y2="440.2" stroke="#222" stroke-width="0.55" />
<line x1="208.41" y1="438" x2="208.41" y2="440.2" stroke="#222" stroke-width="0.55" />
<line x1="210.75" y1="438" x2="210.75" y2="440.2" stroke="#222" stroke-width="0.55" />
<line x1="212.65" y1="438" x2="212.65" y2="440.2" stroke="#222" stroke-width="0.55" />
<line x1="214.27" y1="438" x2="214.27" y2="440.2" stroke="#222" stroke-width="0.55" />
<line x1="215.66" y1="438" x2="215.66" y2="440.2" stroke="#222" stroke-width="0.55" />
<line x1="216.9" y1="438" x2="216.9" y2="440.2" stroke="#222" stroke-width="0.55" />
<line x1="218.0" y1="438" x2="218.0" y2="441.2" stroke="#222" stroke-width="0.55" />
<line x1="225.25" y1="438" x2="225.25" y2="440.2" stroke="#222" stroke-width="0.55" />
<line x1="229.5" y1="438" x2="229.5" y2="440.2" stroke="#222" stroke-width="0.55" />
<line x1="232.51" y1="438" x2="232.51" y2="440.2" stroke="#222" stroke-width="0.55" />
<line x1="234.85" y1="438" x2="234.85" y2="440.2" stroke="#222" stroke-width="0.55" />
<line x1="236.75" y1="438" x2="236.75" y2="440.2" stroke="#222" stroke-width="0.55" />
<line x1="238.37" y1="438" x2="238.37" y2="440.2" stroke="#222" stroke-width="0.55" />
<line x1="239.76" y1="438" x2="239.76" y2="440.2" stroke="#222" stroke-width="0.55" />
<line x1="241.0" y1="438" x2="241.0" y2="440.2" stroke="#222" stroke-width="0.55" />
<line x1="242.1" y1="438" x2="242.1" y2="441.2" stroke="#222" stroke-width="0.55" />
<line x1="249.35" y1="438" x2="249.35" y2="440.2" stroke="#222" stroke-width="0.55" />
<line x1="253.6" y1="438" x2="253.6" y2="440.2" stroke="#222" stroke-width="0.55" />
<line x1="256.61" y1="438" x2="256.61" y2="440.2" stroke="#222" stroke-width="0.55" />
<line x1="258.95" y1="438" x2="258.95" y2="440.2" stroke="#222" stroke-width="0.55" />
<line x1="260.85" y1="438" x2="260.85" y2="440.2" stroke="#222" stroke-width="0.55" />
<line x1="262.47" y1="438" x2="262.47" y2="440.2" stroke="#222" stroke-width="0.55" />
<line x1="263.86" y1="438" x2="263.86" y2="440.2" stroke="#222" stroke-width="0.55" />
<line x1="265.1" y1="438" x2="265.1" y2="440.2" stroke="#222" stroke-width="0.55" />
<line x1="266.2" y1="438" x2="266.2" y2="441.2" stroke="#222" stroke-width="0.55" />
<line x1="273.45" y1="438" x2="273.45" y2="440.2" stroke="#222" stroke-width="0.55" />
<text x="228" y="451.8" font-size="8.8" text-anchor="middle" fill="#2a2a2a" stroke="#2a2a2a" stroke-width="0.18" textLength="38" lengthAdjust="spacingAndGlyphs" >C11-bodipy</text>
<text x="302.6" y="378.8" font-size="8.8" text-anchor="middle" fill="#2a2a2a" stroke="#2a2a2a" stroke-width="0.18" transform="rotate(-90 302.6 378.8)" textLength="40" lengthAdjust="spacingAndGlyphs" >C11-bodipy</text>
<line x1="331.3" y1="346.3" x2="331.3" y2="412.9" stroke="#222" stroke-width="0.9" />
<line x1="330.90000000000003" y1="412.5" x2="381.3" y2="412.5" stroke="#222" stroke-width="0.9" />
<line x1="327.90000000000003" y1="412.5" x2="331.3" y2="412.5" stroke="#222" stroke-width="0.8" />
<text x="326.5" y="415.3" font-size="7.9" text-anchor="end" fill="#2a2a2a" stroke="#2a2a2a" stroke-width="0.18" textLength="4.39" lengthAdjust="spacingAndGlyphs" >0</text>
<line x1="327.90000000000003" y1="391.0" x2="331.3" y2="391.0" stroke="#222" stroke-width="0.8" />
<text x="326.5" y="393.8" font-size="7.9" text-anchor="end" fill="#2a2a2a" stroke="#2a2a2a" stroke-width="0.18" textLength="17.58" lengthAdjust="spacingAndGlyphs" >2000</text>
<line x1="327.90000000000003" y1="369.5" x2="331.3" y2="369.5" stroke="#222" stroke-width="0.8" />
<text x="326.5" y="372.3" font-size="7.9" text-anchor="end" fill="#2a2a2a" stroke="#2a2a2a" stroke-width="0.18" textLength="17.58" lengthAdjust="spacingAndGlyphs" >4000</text>
<line x1="327.90000000000003" y1="348.0" x2="331.3" y2="348.0" stroke="#222" stroke-width="0.8" />
<text x="326.5" y="350.8" font-size="7.9" text-anchor="end" fill="#2a2a2a" stroke="#2a2a2a" stroke-width="0.18" textLength="17.58" lengthAdjust="spacingAndGlyphs" >6000</text>
<rect x="335.50" y="406.26" width="7.50" height="6.23" fill="#b9bbc0" stroke="none" stroke-width="0.5" />
<line x1="339.25" y1="412.5" x2="339.25" y2="414.8" stroke="#222" stroke-width="0.8" />
<line x1="339.25" y1="403.5775" x2="339.25" y2="408.9525" stroke="#1f5f8f" stroke-width="0.6" />
<line x1="337.45" y1="403.5775" x2="341.05" y2="403.5775" stroke="#1f5f8f" stroke-width="0.6" />
<line x1="337.45" y1="408.9525" x2="341.05" y2="408.9525" stroke="#1f5f8f" stroke-width="0.6" />
<circle cx="338.85" cy="408.42" r="0.95" fill="#1f5f8f"/>
<circle cx="338.85" cy="406.53" r="0.95" fill="#1f5f8f"/>
<circle cx="339.75" cy="404.92" r="0.95" fill="#1f5f8f"/>
<circle cx="339.75" cy="403.71" r="0.95" fill="#1f5f8f"/>
<rect x="347.40" y="397.45" width="7.50" height="15.05" fill="#3fae49" stroke="none" stroke-width="0.5" />
<line x1="351.15" y1="412.5" x2="351.15" y2="414.8" stroke="#222" stroke-width="0.8" />
<line x1="351.15" y1="393.365" x2="351.15" y2="401.535" stroke="#1f5f8f" stroke-width="0.6" />
<line x1="349.34999999999997" y1="393.365" x2="352.95" y2="393.365" stroke="#1f5f8f" stroke-width="0.6" />
<line x1="349.34999999999997" y1="401.535" x2="352.95" y2="401.535" stroke="#1f5f8f" stroke-width="0.6" />
<circle cx="350.75" cy="400.72" r="0.95" fill="#1f5f8f"/>
<circle cx="350.75" cy="397.86" r="0.95" fill="#1f5f8f"/>
<circle cx="351.65" cy="395.41" r="0.95" fill="#1f5f8f"/>
<circle cx="351.65" cy="393.57" r="0.95" fill="#1f5f8f"/>
<rect x="359.20" y="387.99" width="7.50" height="24.51" fill="#f7941d" stroke="none" stroke-width="0.5" />
<line x1="362.95" y1="412.5" x2="362.95" y2="414.8" stroke="#222" stroke-width="0.8" />
<line x1="362.95" y1="380.46500000000003" x2="362.95" y2="395.515" stroke="#1f5f8f" stroke-width="0.6" />
<line x1="361.15" y1="380.46500000000003" x2="364.75" y2="380.46500000000003" stroke="#1f5f8f" stroke-width="0.6" />
<line x1="361.15" y1="395.515" x2="364.75" y2="395.515" stroke="#1f5f8f" stroke-width="0.6" />
<circle cx="362.55" cy="394.01" r="0.95" fill="#1f5f8f"/>
<circle cx="362.55" cy="388.74" r="0.95" fill="#1f5f8f"/>
<circle cx="363.45" cy="384.23" r="0.95" fill="#1f5f8f"/>
<circle cx="363.45" cy="380.84" r="0.95" fill="#1f5f8f"/>
<rect x="371.00" y="371.22" width="7.50" height="41.28" fill="#e6007e" stroke="none" stroke-width="0.5" />
<line x1="374.75" y1="412.5" x2="374.75" y2="414.8" stroke="#222" stroke-width="0.8" />
<line x1="374.75" y1="360.47" x2="374.75" y2="381.97" stroke="#1f5f8f" stroke-width="0.6" />
<line x1="372.95" y1="360.47" x2="376.55" y2="360.47" stroke="#1f5f8f" stroke-width="0.6" />
<line x1="372.95" y1="381.97" x2="376.55" y2="381.97" stroke="#1f5f8f" stroke-width="0.6" />
<circle cx="374.35" cy="379.82" r="0.95" fill="#1f5f8f"/>
<circle cx="374.35" cy="372.30" r="0.95" fill="#1f5f8f"/>
<circle cx="375.25" cy="365.85" r="0.95" fill="#1f5f8f"/>
<circle cx="375.25" cy="361.01" r="0.95" fill="#1f5f8f"/>
<polyline points="339.60,395.50 339.60,382.80 352.20,382.80 352.20,391.00" fill="none" stroke="#222" stroke-width="0.8"/>
<text x="345.9" y="383.2" font-size="8.5" text-anchor="middle" fill="#2a2a2a" stroke="#2a2a2a" stroke-width="0.18" >*</text>
<polyline points="362.60,372.50 362.60,350.60 374.60,350.60 374.60,356.00" fill="none" stroke="#222" stroke-width="0.8"/>
<text x="368.7" y="350.8" font-size="8.5" text-anchor="middle" fill="#2a2a2a" stroke="#2a2a2a" stroke-width="0.18" >*</text>
<text x="330.9" y="426" font-size="8" text-anchor="end" fill="#2a2a2a" stroke="#2a2a2a" stroke-width="0.18" textLength="20.8" lengthAdjust="spacingAndGlyphs" >hemin</text>
<text x="330.9" y="435.6" font-size="8" text-anchor="end" fill="#2a2a2a" stroke="#2a2a2a" stroke-width="0.18" textLength="43.6" lengthAdjust="spacingAndGlyphs" >TFMB-L2HG</text>
<text x="339.3" y="426" font-size="8" text-anchor="middle" fill="#3a3a3a" stroke="#3a3a3a" stroke-width="0.18" >–</text>
<text x="339.3" y="435.5" font-size="8" text-anchor="middle" fill="#3a3a3a" stroke="#3a3a3a" stroke-width="0.18" >–</text>
<text x="351.2" y="426" font-size="8" text-anchor="middle" fill="#3a3a3a" stroke="#3a3a3a" stroke-width="0.18" >–</text>
<text x="351.2" y="435.5" font-size="8" text-anchor="middle" fill="#3a3a3a" stroke="#3a3a3a" stroke-width="0.18" >+</text>
<text x="363" y="426" font-size="8" text-anchor="middle" fill="#3a3a3a" stroke="#3a3a3a" stroke-width="0.18" >+</text>
<text x="363" y="435.5" font-size="8" text-anchor="middle" fill="#3a3a3a" stroke="#3a3a3a" stroke-width="0.18" >–</text>
<text x="374.7" y="426" font-size="8" text-anchor="middle" fill="#3a3a3a" stroke="#3a3a3a" stroke-width="0.18" >+</text>
<text x="374.7" y="435.5" font-size="8" text-anchor="middle" fill="#3a3a3a" stroke="#3a3a3a" stroke-width="0.18" >+</text>
</svg>
</body></html>
